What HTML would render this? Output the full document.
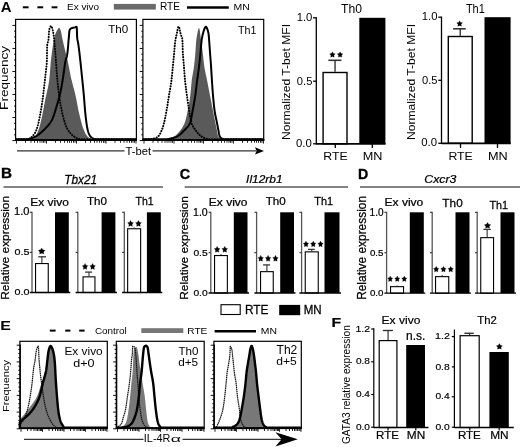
<!DOCTYPE html>
<html><head><meta charset="utf-8"><style>
html,body{margin:0;padding:0;background:#fff;}
body{width:520px;height:447px;overflow:hidden;}
svg{display:block;font-family:"Liberation Sans", sans-serif;will-change:transform;}
</style></head><body>
<svg width="520" height="447" viewBox="0 0 520 447">
<rect width="520" height="447" fill="#fff"/>
<text transform="translate(0.77,12.40) scale(1.035,1)" font-size="14.49" font-weight="bold" font-style="normal" fill="#000">A</text>
<line x1="22.8" y1="7.3" x2="28.6" y2="7.3" stroke="#000" stroke-width="2"/>
<line x1="37.4" y1="7.3" x2="43.199999999999996" y2="7.3" stroke="#000" stroke-width="2"/>
<line x1="51.6" y1="7.3" x2="57.4" y2="7.3" stroke="#000" stroke-width="2"/>
<text transform="translate(67.00,9.71) scale(1.062,1)" font-size="9.39" font-weight="normal" font-style="normal" fill="#000">Ex vivo</text>
<rect x="113.80" y="3.90" width="42.00" height="5.70" fill="#6a6a6a"/>
<text transform="translate(159.99,9.80) scale(1.011,1)" font-size="10.00" font-weight="normal" font-style="normal" fill="#000">RTE</text>
<line x1="187" y1="7.5" x2="228.8" y2="7.5" stroke="#000" stroke-width="2.6"/>
<text transform="translate(233.56,9.80) scale(1.078,1)" font-size="9.71" font-weight="normal" font-style="normal" fill="#000">MN</text>
<path d="M16.00,139.20 L29.00,139.20 L29.87,139.07 L30.72,138.89 L31.52,138.66 L32.28,138.38 L32.99,138.07 L33.62,137.73 L34.18,137.37 L34.70,136.93 L35.20,136.39 L35.67,135.78 L36.12,135.11 L36.54,134.38 L36.94,133.62 L37.32,132.84 L37.67,132.05 L38.00,131.27 L38.30,130.51 L38.58,129.78 L38.85,129.05 L39.09,128.31 L39.33,127.56 L39.55,126.80 L39.76,126.04 L39.96,125.26 L40.16,124.49 L40.34,123.71 L40.53,122.93 L40.71,122.15 L40.88,121.37 L41.06,120.59 L41.24,119.82 L41.42,119.05 L41.59,118.27 L41.76,117.50 L41.93,116.73 L42.10,115.95 L42.26,115.18 L42.42,114.40 L42.57,113.62 L42.73,112.85 L42.88,112.07 L43.03,111.29 L43.19,110.51 L43.33,109.73 L43.48,108.95 L43.63,108.18 L43.78,107.40 L43.93,106.62 L44.07,105.84 L44.22,105.06 L44.37,104.28 L44.52,103.50 L44.67,102.72 L44.82,101.94 L44.97,101.16 L45.12,100.39 L45.28,99.61 L45.44,98.83 L45.60,98.05 L45.77,97.28 L45.94,96.50 L46.11,95.73 L46.28,94.95 L46.46,94.18 L46.63,93.40 L46.81,92.63 L46.98,91.85 L47.15,91.08 L47.33,90.30 L47.49,89.52 L47.66,88.75 L47.83,87.97 L47.99,87.20 L48.14,86.42 L48.29,85.64 L48.44,84.86 L48.58,84.08 L48.71,83.30 L48.84,82.52 L48.96,81.74 L49.07,80.96 L49.18,80.18 L49.27,79.39 L49.36,78.61 L49.45,77.82 L49.53,77.04 L49.61,76.25 L49.69,75.46 L49.76,74.67 L49.83,73.88 L49.89,73.09 L49.96,72.30 L50.02,71.51 L50.08,70.72 L50.14,69.93 L50.21,69.14 L50.27,68.35 L50.33,67.55 L50.39,66.76 L50.45,65.97 L50.52,65.18 L50.58,64.39 L50.65,63.60 L50.72,62.81 L50.79,62.02 L50.87,61.23 L50.95,60.44 L51.04,59.65 L51.12,58.87 L51.21,58.08 L51.30,57.29 L51.40,56.50 L51.49,55.72 L51.59,54.93 L51.69,54.14 L51.79,53.36 L51.89,52.57 L52.00,51.78 L52.10,51.00 L52.21,50.21 L52.32,49.43 L52.44,48.64 L52.55,47.86 L52.67,47.07 L52.79,46.29 L52.92,45.51 L53.04,44.73 L53.17,43.94 L53.30,43.16 L53.43,42.37 L53.56,41.58 L53.70,40.80 L53.84,40.01 L53.99,39.23 L54.15,38.45 L54.32,37.67 L54.49,36.91 L54.69,36.14 L54.89,35.39 L55.11,34.64 L55.37,33.89 L55.66,33.14 L55.99,32.41 L56.34,31.69 L56.71,30.99 L57.11,30.31 L57.58,29.53 L58.11,28.73 L58.65,28.10 L59.14,27.80 L59.60,28.07 L60.04,28.84 L60.40,29.73 L60.66,30.47 L60.88,31.21 L61.07,31.97 L61.24,32.75 L61.39,33.53 L61.53,34.32 L61.67,35.11 L61.81,35.90 L61.95,36.69 L62.11,37.48 L62.28,38.25 L62.45,39.03 L62.63,39.80 L62.80,40.57 L62.98,41.35 L63.15,42.12 L63.33,42.89 L63.51,43.66 L63.69,44.44 L63.86,45.21 L64.05,45.98 L64.23,46.75 L64.41,47.52 L64.59,48.30 L64.78,49.07 L64.96,49.84 L65.15,50.61 L65.34,51.38 L65.53,52.15 L65.73,52.91 L65.93,53.68 L66.13,54.45 L66.33,55.22 L66.52,55.98 L66.72,56.75 L66.91,57.52 L67.10,58.29 L67.28,59.06 L67.46,59.83 L67.63,60.61 L67.80,61.38 L67.97,62.16 L68.13,62.93 L68.28,63.71 L68.44,64.49 L68.59,65.26 L68.74,66.04 L68.89,66.82 L69.04,67.60 L69.19,68.38 L69.33,69.16 L69.48,69.94 L69.63,70.72 L69.77,71.50 L69.92,72.28 L70.07,73.05 L70.23,73.83 L70.38,74.61 L70.54,75.39 L70.70,76.16 L70.87,76.94 L71.04,77.71 L71.21,78.48 L71.39,79.26 L71.57,80.03 L71.76,80.80 L71.95,81.56 L72.15,82.33 L72.34,83.10 L72.54,83.87 L72.75,84.64 L72.95,85.40 L73.15,86.17 L73.36,86.93 L73.56,87.70 L73.77,88.47 L73.97,89.23 L74.17,90.00 L74.37,90.77 L74.57,91.54 L74.77,92.30 L74.96,93.07 L75.14,93.84 L75.33,94.61 L75.51,95.39 L75.68,96.16 L75.85,96.93 L76.01,97.71 L76.17,98.48 L76.33,99.26 L76.48,100.04 L76.63,100.82 L76.78,101.60 L76.92,102.38 L77.07,103.16 L77.22,103.94 L77.36,104.72 L77.51,105.50 L77.65,106.28 L77.80,107.06 L77.95,107.84 L78.10,108.62 L78.26,109.39 L78.42,110.17 L78.58,110.94 L78.75,111.72 L78.92,112.49 L79.10,113.26 L79.28,114.03 L79.46,114.80 L79.65,115.58 L79.83,116.35 L80.02,117.13 L80.21,117.91 L80.40,118.69 L80.59,119.47 L80.79,120.25 L80.99,121.03 L81.19,121.80 L81.40,122.58 L81.62,123.35 L81.84,124.12 L82.06,124.88 L82.30,125.65 L82.54,126.40 L82.78,127.15 L83.04,127.90 L83.31,128.64 L83.58,129.37 L83.86,130.09 L84.16,130.81 L84.46,131.51 L84.79,132.23 L85.14,132.95 L85.53,133.68 L85.94,134.40 L86.38,135.09 L86.85,135.75 L87.35,136.35 L87.87,136.88 L88.43,137.36 L89.05,137.80 L89.72,138.21 L90.45,138.58 L91.21,138.91 L92.00,139.20 L136.00,139.20 L136.0,140.7 L16.0,140.7 Z" fill="#5a5a5a" stroke="none" stroke-width="1"/>
<path d="M16.00,139.20 L28.00,139.20 L28.76,138.86 L29.50,138.49 L30.21,138.08 L30.88,137.65 L31.49,137.18 L32.05,136.68 L32.59,136.13 L33.11,135.53 L33.62,134.89 L34.10,134.23 L34.57,133.53 L35.00,132.82 L35.41,132.10 L35.78,131.37 L36.13,130.65 L36.43,129.93 L36.71,129.20 L36.97,128.47 L37.21,127.71 L37.45,126.95 L37.66,126.18 L37.87,125.39 L38.07,124.61 L38.26,123.82 L38.44,123.02 L38.62,122.23 L38.79,121.44 L38.96,120.65 L39.13,119.87 L39.29,119.08 L39.46,118.30 L39.61,117.52 L39.77,116.73 L39.92,115.95 L40.07,115.16 L40.22,114.37 L40.36,113.59 L40.50,112.80 L40.64,112.01 L40.78,111.22 L40.91,110.43 L41.05,109.63 L41.18,108.84 L41.30,108.05 L41.43,107.26 L41.55,106.47 L41.67,105.67 L41.79,104.88 L41.91,104.09 L42.03,103.29 L42.14,102.50 L42.26,101.71 L42.37,100.91 L42.48,100.12 L42.59,99.33 L42.70,98.53 L42.81,97.74 L42.91,96.95 L43.02,96.15 L43.12,95.36 L43.22,94.56 L43.32,93.77 L43.42,92.97 L43.51,92.18 L43.61,91.38 L43.70,90.59 L43.80,89.79 L43.89,89.00 L43.98,88.20 L44.07,87.40 L44.16,86.61 L44.25,85.81 L44.34,85.01 L44.42,84.22 L44.51,83.42 L44.60,82.62 L44.69,81.83 L44.77,81.03 L44.86,80.23 L44.94,79.44 L45.03,78.64 L45.12,77.85 L45.21,77.05 L45.30,76.25 L45.39,75.46 L45.49,74.66 L45.58,73.86 L45.68,73.07 L45.78,72.27 L45.88,71.47 L45.97,70.68 L46.07,69.88 L46.16,69.08 L46.25,68.29 L46.34,67.49 L46.42,66.69 L46.50,65.90 L46.58,65.10 L46.64,64.30 L46.71,63.50 L46.76,62.70 L46.81,61.91 L46.86,61.11 L46.89,60.31 L46.92,59.51 L46.94,58.71 L46.96,57.91 L46.97,57.10 L46.98,56.30 L47.00,55.49 L47.01,54.69 L47.02,53.88 L47.02,53.08 L47.03,52.27 L47.04,51.47 L47.05,50.67 L47.07,49.86 L47.08,49.06 L47.10,48.26 L47.12,47.47 L47.14,46.67 L47.16,45.88 L47.20,45.09 L47.27,44.31 L47.44,43.53 L47.66,42.75 L47.91,41.98 L48.14,41.20 L48.33,40.42 L48.45,39.63 L48.54,38.83 L48.61,38.03 L48.67,37.22 L48.72,36.41 L48.77,35.59 L48.81,34.78 L48.86,33.97 L48.91,33.16 L48.97,32.36 L49.04,31.57 L49.13,30.79 L49.23,30.03 L49.37,29.25 L49.66,28.34 L50.05,27.40 L50.49,26.59 L50.90,26.09 L51.23,26.04 L51.54,26.40 L51.84,27.07 L52.14,27.95 L52.41,28.93 L52.65,29.93 L52.86,30.82 L53.03,31.60 L53.19,32.39 L53.34,33.17 L53.47,33.97 L53.59,34.76 L53.70,35.56 L53.81,36.35 L53.91,37.15 L54.00,37.94 L54.09,38.74 L54.17,39.54 L54.25,40.33 L54.32,41.13 L54.40,41.93 L54.47,42.73 L54.54,43.53 L54.61,44.32 L54.68,45.12 L54.76,45.92 L54.83,46.72 L54.90,47.52 L54.97,48.31 L55.03,49.11 L55.10,49.91 L55.17,50.71 L55.23,51.51 L55.30,52.31 L55.36,53.10 L55.43,53.90 L55.49,54.70 L55.55,55.50 L55.61,56.30 L55.68,57.10 L55.74,57.90 L55.80,58.69 L55.86,59.49 L55.92,60.29 L55.98,61.09 L56.04,61.89 L56.10,62.69 L56.15,63.49 L56.21,64.29 L56.26,65.09 L56.32,65.89 L56.37,66.69 L56.42,67.49 L56.48,68.29 L56.53,69.09 L56.58,69.89 L56.64,70.68 L56.69,71.48 L56.75,72.28 L56.81,73.08 L56.86,73.88 L56.93,74.68 L56.99,75.48 L57.05,76.28 L57.12,77.07 L57.19,77.87 L57.26,78.67 L57.33,79.47 L57.41,80.26 L57.48,81.06 L57.56,81.86 L57.64,82.66 L57.72,83.45 L57.80,84.25 L57.89,85.05 L57.97,85.85 L58.06,86.64 L58.15,87.44 L58.24,88.24 L58.33,89.04 L58.43,89.83 L58.52,90.63 L58.62,91.42 L58.72,92.22 L58.82,93.01 L58.92,93.81 L59.03,94.60 L59.14,95.40 L59.25,96.19 L59.36,96.98 L59.47,97.77 L59.59,98.57 L59.70,99.36 L59.82,100.15 L59.94,100.94 L60.07,101.73 L60.20,102.52 L60.33,103.31 L60.46,104.10 L60.60,104.89 L60.74,105.69 L60.88,106.48 L61.03,107.27 L61.18,108.06 L61.34,108.85 L61.49,109.64 L61.66,110.43 L61.82,111.22 L61.99,112.00 L62.17,112.79 L62.34,113.57 L62.53,114.35 L62.71,115.13 L62.90,115.91 L63.10,116.68 L63.30,117.45 L63.51,118.22 L63.71,118.99 L63.93,119.75 L64.15,120.52 L64.38,121.29 L64.62,122.06 L64.87,122.84 L65.14,123.61 L65.41,124.39 L65.70,125.16 L66.00,125.92 L66.31,126.66 L66.64,127.40 L66.98,128.12 L67.33,128.82 L67.70,129.49 L68.09,130.15 L68.51,130.80 L68.97,131.45 L69.46,132.10 L69.98,132.73 L70.52,133.36 L71.09,133.97 L71.69,134.56 L72.29,135.12 L72.92,135.65 L73.55,136.15 L74.19,136.60 L74.83,137.02 L75.49,137.40 L76.19,137.76 L76.91,138.10 L77.65,138.42 L78.42,138.71 L79.20,138.97 L80.00,139.20 L136.00,139.20" fill="none" stroke="#000" stroke-width="2.0" stroke-linejoin="round" fill="none" stroke-dasharray="0.2 2.5" stroke-linecap="round"/>
<path d="M16.00,139.20 L27.00,139.20 L27.84,139.05 L28.68,138.88 L29.50,138.68 L30.32,138.46 L31.12,138.22 L31.91,137.96 L32.68,137.69 L33.44,137.40 L34.18,137.09 L34.91,136.77 L35.63,136.41 L36.35,136.01 L37.05,135.58 L37.75,135.12 L38.44,134.63 L39.12,134.12 L39.78,133.59 L40.44,133.05 L41.09,132.49 L41.73,131.93 L42.35,131.36 L42.96,130.79 L43.56,130.23 L44.15,129.67 L44.74,129.09 L45.33,128.50 L45.92,127.90 L46.50,127.29 L47.08,126.67 L47.65,126.03 L48.21,125.39 L48.75,124.73 L49.28,124.07 L49.78,123.40 L50.27,122.72 L50.73,122.03 L51.16,121.34 L51.56,120.64 L51.93,119.93 L52.28,119.22 L52.62,118.49 L52.93,117.74 L53.24,116.99 L53.53,116.22 L53.82,115.44 L54.09,114.66 L54.35,113.86 L54.61,113.06 L54.86,112.26 L55.11,111.45 L55.35,110.64 L55.59,109.82 L55.82,109.01 L56.06,108.20 L56.29,107.39 L56.53,106.58 L56.76,105.78 L57.00,104.98 L57.25,104.19 L57.49,103.40 L57.73,102.60 L57.97,101.80 L58.21,101.01 L58.44,100.21 L58.67,99.41 L58.89,98.61 L59.10,97.81 L59.31,97.00 L59.51,96.20 L59.69,95.39 L59.88,94.58 L60.06,93.77 L60.23,92.96 L60.41,92.15 L60.58,91.34 L60.74,90.52 L60.90,89.71 L61.06,88.89 L61.22,88.08 L61.38,87.26 L61.53,86.44 L61.68,85.63 L61.83,84.81 L61.97,83.99 L62.12,83.17 L62.26,82.35 L62.40,81.53 L62.54,80.71 L62.68,79.89 L62.82,79.07 L62.96,78.26 L63.09,77.44 L63.22,76.62 L63.35,75.79 L63.46,74.97 L63.58,74.15 L63.69,73.32 L63.80,72.49 L63.90,71.67 L64.01,70.84 L64.11,70.01 L64.22,69.18 L64.32,68.36 L64.43,67.53 L64.54,66.71 L64.66,65.89 L64.78,65.07 L64.91,64.25 L65.04,63.43 L65.18,62.61 L65.33,61.80 L65.49,60.99 L65.66,60.18 L65.86,59.38 L66.12,58.59 L66.41,57.80 L66.69,57.01 L66.91,56.22 L67.06,55.42 L67.19,54.61 L67.31,53.79 L67.42,52.98 L67.52,52.16 L67.62,51.34 L67.71,50.51 L67.79,49.69 L67.87,48.86 L67.94,48.03 L68.01,47.20 L68.08,46.37 L68.15,45.53 L68.21,44.70 L68.28,43.87 L68.34,43.03 L68.41,42.20 L68.48,41.37 L68.55,40.54 L68.62,39.71 L68.70,38.88 L68.78,38.05 L68.87,37.21 L68.94,36.34 L69.00,35.45 L69.06,34.55 L69.13,33.67 L69.20,32.80 L69.29,31.96 L69.40,31.18 L69.53,30.45 L69.70,29.80 L70.10,29.18 L70.80,28.61 L71.61,28.16 L72.37,27.90 L73.18,27.74 L74.02,27.60 L74.87,27.39 L75.84,27.04 L76.47,26.80 L76.60,26.89 L76.69,27.20 L76.76,27.71 L76.82,28.39 L76.86,29.20 L76.90,30.13 L76.93,31.15 L76.95,32.22 L76.98,33.32 L77.01,34.42 L77.05,35.49 L77.10,36.51 L77.16,37.45 L77.24,38.29 L77.35,39.11 L77.49,39.93 L77.65,40.74 L77.81,41.56 L77.98,42.38 L78.13,43.19 L78.27,44.01 L78.39,44.83 L78.51,45.65 L78.63,46.48 L78.74,47.30 L78.85,48.12 L78.95,48.95 L79.06,49.77 L79.16,50.59 L79.26,51.42 L79.36,52.24 L79.46,53.07 L79.56,53.89 L79.65,54.72 L79.75,55.54 L79.84,56.37 L79.94,57.19 L80.03,58.02 L80.12,58.84 L80.21,59.67 L80.30,60.50 L80.39,61.32 L80.48,62.15 L80.57,62.97 L80.66,63.80 L80.74,64.63 L80.83,65.45 L80.91,66.28 L81.00,67.10 L81.08,67.93 L81.17,68.76 L81.25,69.58 L81.33,70.41 L81.42,71.24 L81.50,72.06 L81.58,72.89 L81.67,73.71 L81.75,74.54 L81.84,75.37 L81.92,76.19 L82.01,77.02 L82.09,77.84 L82.18,78.67 L82.26,79.50 L82.35,80.32 L82.43,81.15 L82.52,81.98 L82.60,82.80 L82.69,83.63 L82.77,84.45 L82.86,85.28 L82.94,86.11 L83.02,86.93 L83.11,87.76 L83.19,88.59 L83.27,89.41 L83.35,90.24 L83.43,91.07 L83.51,91.89 L83.59,92.72 L83.67,93.55 L83.74,94.37 L83.82,95.20 L83.89,96.03 L83.96,96.85 L84.03,97.68 L84.10,98.51 L84.16,99.34 L84.23,100.17 L84.29,101.00 L84.36,101.82 L84.42,102.65 L84.48,103.48 L84.54,104.31 L84.61,105.14 L84.67,105.97 L84.74,106.80 L84.80,107.62 L84.87,108.45 L84.94,109.28 L85.02,110.11 L85.09,110.93 L85.17,111.76 L85.25,112.58 L85.34,113.41 L85.43,114.23 L85.52,115.06 L85.61,115.89 L85.70,116.72 L85.79,117.56 L85.88,118.39 L85.98,119.23 L86.08,120.07 L86.18,120.90 L86.29,121.74 L86.40,122.57 L86.52,123.40 L86.64,124.23 L86.77,125.05 L86.91,125.87 L87.05,126.69 L87.21,127.50 L87.37,128.30 L87.54,129.10 L87.72,129.89 L87.91,130.67 L88.12,131.45 L88.38,132.26 L88.68,133.08 L89.02,133.89 L89.41,134.69 L89.82,135.43 L90.27,136.12 L90.75,136.73 L91.26,137.25 L91.87,137.73 L92.56,138.17 L93.32,138.56 L94.14,138.91 L95.00,139.20 L136.00,139.20" fill="none" stroke="#000" stroke-width="2.0" stroke-linejoin="round" fill="none"/>
<line x1="12.399999999999999" y1="140.6" x2="15.6" y2="140.6" stroke="#111" stroke-width="1.0"/>
<line x1="14.0" y1="134.84" x2="15.6" y2="134.84" stroke="#111" stroke-width="1.0"/>
<line x1="14.0" y1="129.07999999999998" x2="15.6" y2="129.07999999999998" stroke="#111" stroke-width="1.0"/>
<line x1="14.0" y1="123.32" x2="15.6" y2="123.32" stroke="#111" stroke-width="1.0"/>
<line x1="12.399999999999999" y1="117.56" x2="15.6" y2="117.56" stroke="#111" stroke-width="1.0"/>
<line x1="14.0" y1="111.8" x2="15.6" y2="111.8" stroke="#111" stroke-width="1.0"/>
<line x1="14.0" y1="106.03999999999999" x2="15.6" y2="106.03999999999999" stroke="#111" stroke-width="1.0"/>
<line x1="14.0" y1="100.28" x2="15.6" y2="100.28" stroke="#111" stroke-width="1.0"/>
<line x1="12.399999999999999" y1="94.52" x2="15.6" y2="94.52" stroke="#111" stroke-width="1.0"/>
<line x1="14.0" y1="88.75999999999999" x2="15.6" y2="88.75999999999999" stroke="#111" stroke-width="1.0"/>
<line x1="14.0" y1="83.0" x2="15.6" y2="83.0" stroke="#111" stroke-width="1.0"/>
<line x1="14.0" y1="77.24" x2="15.6" y2="77.24" stroke="#111" stroke-width="1.0"/>
<line x1="12.399999999999999" y1="71.47999999999999" x2="15.6" y2="71.47999999999999" stroke="#111" stroke-width="1.0"/>
<line x1="14.0" y1="65.72" x2="15.6" y2="65.72" stroke="#111" stroke-width="1.0"/>
<line x1="14.0" y1="59.959999999999994" x2="15.6" y2="59.959999999999994" stroke="#111" stroke-width="1.0"/>
<line x1="14.0" y1="54.2" x2="15.6" y2="54.2" stroke="#111" stroke-width="1.0"/>
<line x1="12.399999999999999" y1="48.44" x2="15.6" y2="48.44" stroke="#111" stroke-width="1.0"/>
<line x1="14.0" y1="42.67999999999999" x2="15.6" y2="42.67999999999999" stroke="#111" stroke-width="1.0"/>
<line x1="14.0" y1="36.92" x2="15.6" y2="36.92" stroke="#111" stroke-width="1.0"/>
<line x1="14.0" y1="31.159999999999997" x2="15.6" y2="31.159999999999997" stroke="#111" stroke-width="1.0"/>
<line x1="12.399999999999999" y1="25.400000000000006" x2="15.6" y2="25.400000000000006" stroke="#111" stroke-width="1.0"/>
<line x1="16.5" y1="140.6" x2="16.5" y2="143.6" stroke="#111" stroke-width="0.9"/>
<line x1="25.5" y1="140.6" x2="25.5" y2="142.79999999999998" stroke="#111" stroke-width="0.9"/>
<line x1="31.0" y1="140.6" x2="31.0" y2="142.79999999999998" stroke="#111" stroke-width="0.9"/>
<line x1="34.5" y1="140.6" x2="34.5" y2="142.79999999999998" stroke="#111" stroke-width="0.9"/>
<line x1="37.5" y1="140.6" x2="37.5" y2="142.79999999999998" stroke="#111" stroke-width="0.9"/>
<line x1="40.0" y1="140.6" x2="40.0" y2="142.79999999999998" stroke="#111" stroke-width="0.9"/>
<line x1="42.0" y1="140.6" x2="42.0" y2="142.79999999999998" stroke="#111" stroke-width="0.9"/>
<line x1="43.5" y1="140.6" x2="43.5" y2="142.79999999999998" stroke="#111" stroke-width="0.9"/>
<line x1="45.0" y1="140.6" x2="45.0" y2="142.79999999999998" stroke="#111" stroke-width="0.9"/>
<line x1="46.5" y1="140.6" x2="46.5" y2="143.6" stroke="#111" stroke-width="0.9"/>
<line x1="55.5" y1="140.6" x2="55.5" y2="142.79999999999998" stroke="#111" stroke-width="0.9"/>
<line x1="60.5" y1="140.6" x2="60.5" y2="142.79999999999998" stroke="#111" stroke-width="0.9"/>
<line x1="64.5" y1="140.6" x2="64.5" y2="142.79999999999998" stroke="#111" stroke-width="0.9"/>
<line x1="67.5" y1="140.6" x2="67.5" y2="142.79999999999998" stroke="#111" stroke-width="0.9"/>
<line x1="69.5" y1="140.6" x2="69.5" y2="142.79999999999998" stroke="#111" stroke-width="0.9"/>
<line x1="71.5" y1="140.6" x2="71.5" y2="142.79999999999998" stroke="#111" stroke-width="0.9"/>
<line x1="73.5" y1="140.6" x2="73.5" y2="142.79999999999998" stroke="#111" stroke-width="0.9"/>
<line x1="75.0" y1="140.6" x2="75.0" y2="142.79999999999998" stroke="#111" stroke-width="0.9"/>
<line x1="76.5" y1="140.6" x2="76.5" y2="143.6" stroke="#111" stroke-width="0.9"/>
<line x1="85.5" y1="140.6" x2="85.5" y2="142.79999999999998" stroke="#111" stroke-width="0.9"/>
<line x1="90.5" y1="140.6" x2="90.5" y2="142.79999999999998" stroke="#111" stroke-width="0.9"/>
<line x1="94.5" y1="140.6" x2="94.5" y2="142.79999999999998" stroke="#111" stroke-width="0.9"/>
<line x1="97.0" y1="140.6" x2="97.0" y2="142.79999999999998" stroke="#111" stroke-width="0.9"/>
<line x1="99.5" y1="140.6" x2="99.5" y2="142.79999999999998" stroke="#111" stroke-width="0.9"/>
<line x1="101.5" y1="140.6" x2="101.5" y2="142.79999999999998" stroke="#111" stroke-width="0.9"/>
<line x1="103.5" y1="140.6" x2="103.5" y2="142.79999999999998" stroke="#111" stroke-width="0.9"/>
<line x1="105.0" y1="140.6" x2="105.0" y2="142.79999999999998" stroke="#111" stroke-width="0.9"/>
<line x1="106.0" y1="140.6" x2="106.0" y2="143.6" stroke="#111" stroke-width="0.9"/>
<line x1="115.0" y1="140.6" x2="115.0" y2="142.79999999999998" stroke="#111" stroke-width="0.9"/>
<line x1="120.5" y1="140.6" x2="120.5" y2="142.79999999999998" stroke="#111" stroke-width="0.9"/>
<line x1="124.0" y1="140.6" x2="124.0" y2="142.79999999999998" stroke="#111" stroke-width="0.9"/>
<line x1="127.0" y1="140.6" x2="127.0" y2="142.79999999999998" stroke="#111" stroke-width="0.9"/>
<line x1="129.5" y1="140.6" x2="129.5" y2="142.79999999999998" stroke="#111" stroke-width="0.9"/>
<line x1="131.5" y1="140.6" x2="131.5" y2="142.79999999999998" stroke="#111" stroke-width="0.9"/>
<line x1="133.0" y1="140.6" x2="133.0" y2="142.79999999999998" stroke="#111" stroke-width="0.9"/>
<line x1="134.5" y1="140.6" x2="134.5" y2="142.79999999999998" stroke="#111" stroke-width="0.9"/>
<line x1="136.0" y1="140.6" x2="136.0" y2="143.6" stroke="#111" stroke-width="0.9"/>
<rect x="15.60" y="19.40" width="120.80" height="121.00" fill="none" stroke="#000" stroke-width="1.2"/>
<line x1="15.0" y1="139.8" x2="137.0" y2="139.8" stroke="#000" stroke-width="1.8"/>
<path d="M143.30,139.20 L162.00,139.20 L162.88,139.18 L163.75,139.14 L164.60,139.06 L165.44,138.96 L166.27,138.84 L167.08,138.69 L167.88,138.53 L168.66,138.35 L169.42,138.15 L170.17,137.94 L170.91,137.71 L171.63,137.48 L172.33,137.24 L173.02,136.99 L173.69,136.70 L174.36,136.34 L175.01,135.90 L175.66,135.41 L176.29,134.88 L176.90,134.30 L177.50,133.69 L178.08,133.07 L178.64,132.44 L179.18,131.80 L179.69,131.18 L180.18,130.57 L180.66,129.95 L181.14,129.31 L181.60,128.64 L182.05,127.96 L182.49,127.27 L182.91,126.56 L183.30,125.84 L183.68,125.12 L184.02,124.39 L184.34,123.66 L184.63,122.93 L184.89,122.20 L185.14,121.45 L185.38,120.69 L185.60,119.93 L185.82,119.16 L186.03,118.38 L186.22,117.60 L186.41,116.81 L186.60,116.02 L186.78,115.22 L186.95,114.43 L187.12,113.64 L187.28,112.84 L187.44,112.05 L187.61,111.26 L187.77,110.48 L187.92,109.69 L188.08,108.91 L188.24,108.12 L188.39,107.33 L188.54,106.54 L188.68,105.75 L188.83,104.96 L188.97,104.17 L189.11,103.38 L189.24,102.58 L189.38,101.79 L189.50,101.00 L189.63,100.20 L189.75,99.41 L189.87,98.62 L189.98,97.82 L190.09,97.03 L190.19,96.23 L190.30,95.44 L190.39,94.64 L190.48,93.84 L190.57,93.05 L190.65,92.25 L190.72,91.45 L190.80,90.65 L190.87,89.85 L190.94,89.05 L191.01,88.25 L191.07,87.45 L191.14,86.65 L191.21,85.85 L191.28,85.05 L191.35,84.25 L191.43,83.45 L191.51,82.65 L191.59,81.85 L191.68,81.05 L191.77,80.26 L191.87,79.46 L191.98,78.67 L192.10,77.87 L192.22,77.08 L192.36,76.29 L192.49,75.50 L192.63,74.71 L192.78,73.92 L192.92,73.12 L193.06,72.33 L193.21,71.54 L193.34,70.75 L193.48,69.96 L193.60,69.17 L193.73,68.37 L193.84,67.58 L193.94,66.79 L194.04,65.99 L194.13,65.19 L194.23,64.40 L194.32,63.60 L194.41,62.80 L194.50,62.00 L194.58,61.20 L194.66,60.41 L194.74,59.61 L194.82,58.81 L194.90,58.01 L194.98,57.21 L195.05,56.41 L195.12,55.61 L195.19,54.81 L195.26,54.01 L195.33,53.21 L195.40,52.41 L195.46,51.61 L195.51,50.81 L195.56,50.00 L195.61,49.20 L195.66,48.40 L195.71,47.59 L195.76,46.79 L195.81,45.99 L195.86,45.18 L195.91,44.38 L195.97,43.58 L196.03,42.78 L196.10,41.99 L196.18,41.19 L196.26,40.40 L196.35,39.59 L196.46,38.71 L196.60,37.76 L196.75,36.76 L196.92,35.73 L197.10,34.68 L197.30,33.65 L197.50,32.64 L197.70,31.69 L197.91,30.80 L198.12,30.00 L198.32,29.30 L198.51,28.74 L198.70,28.32 L198.87,28.07 L199.03,28.00 L199.18,28.14 L199.32,28.46 L199.46,28.94 L199.60,29.57 L199.74,30.32 L199.88,31.17 L200.01,32.10 L200.14,33.10 L200.27,34.13 L200.40,35.18 L200.52,36.23 L200.64,37.26 L200.76,38.25 L200.88,39.17 L201.00,40.02 L201.12,40.81 L201.23,41.60 L201.35,42.40 L201.46,43.19 L201.56,43.99 L201.67,44.78 L201.78,45.58 L201.88,46.38 L201.99,47.17 L202.09,47.97 L202.19,48.76 L202.29,49.56 L202.39,50.36 L202.49,51.15 L202.59,51.95 L202.69,52.75 L202.79,53.54 L202.89,54.34 L202.99,55.14 L203.08,55.93 L203.17,56.73 L203.25,57.53 L203.34,58.33 L203.43,59.13 L203.51,59.93 L203.60,60.73 L203.69,61.53 L203.78,62.32 L203.87,63.12 L203.97,63.92 L204.07,64.71 L204.17,65.51 L204.28,66.30 L204.40,67.09 L204.52,67.89 L204.65,68.68 L204.80,69.46 L204.94,70.25 L205.10,71.04 L205.26,71.83 L205.42,72.61 L205.59,73.40 L205.76,74.18 L205.93,74.97 L206.10,75.75 L206.27,76.54 L206.44,77.32 L206.61,78.11 L206.78,78.90 L206.94,79.68 L207.09,80.47 L207.25,81.26 L207.40,82.05 L207.56,82.83 L207.71,83.62 L207.87,84.41 L208.02,85.20 L208.17,85.98 L208.33,86.77 L208.48,87.56 L208.63,88.35 L208.79,89.14 L208.94,89.92 L209.09,90.71 L209.24,91.50 L209.40,92.29 L209.55,93.08 L209.70,93.86 L209.85,94.65 L210.01,95.44 L210.16,96.23 L210.31,97.02 L210.47,97.80 L210.62,98.59 L210.77,99.38 L210.93,100.17 L211.08,100.96 L211.23,101.74 L211.39,102.53 L211.54,103.32 L211.69,104.11 L211.85,104.90 L212.00,105.68 L212.15,106.47 L212.31,107.26 L212.46,108.05 L212.62,108.83 L212.77,109.62 L212.92,110.41 L213.08,111.20 L213.23,111.99 L213.39,112.77 L213.54,113.56 L213.69,114.35 L213.85,115.14 L214.00,115.93 L214.16,116.71 L214.31,117.50 L214.46,118.29 L214.62,119.08 L214.77,119.86 L214.93,120.65 L215.09,121.44 L215.24,122.23 L215.40,123.01 L215.56,123.80 L215.72,124.59 L215.87,125.37 L216.03,126.16 L216.19,126.95 L216.35,127.74 L216.51,128.52 L216.68,129.31 L216.84,130.09 L217.02,130.88 L217.18,131.68 L217.33,132.50 L217.48,133.34 L217.64,134.16 L217.82,134.97 L218.02,135.73 L218.26,136.45 L218.55,137.09 L218.98,137.68 L219.57,138.23 L220.26,138.74 L221.00,139.20 L263.30,139.20 L263.3,140.7 L143.3,140.7 Z" fill="#5a5a5a" stroke="none" stroke-width="1"/>
<path d="M143.30,139.20 L150.00,139.20 L150.82,139.13 L151.63,139.01 L152.43,138.86 L153.22,138.69 L154.00,138.50 L154.79,138.27 L155.59,137.99 L156.37,137.66 L157.08,137.28 L157.67,136.87 L158.22,136.37 L158.74,135.78 L159.22,135.13 L159.68,134.42 L160.11,133.67 L160.52,132.91 L160.89,132.14 L161.24,131.37 L161.57,130.64 L161.88,129.90 L162.16,129.15 L162.44,128.39 L162.70,127.62 L162.94,126.84 L163.18,126.05 L163.40,125.26 L163.62,124.47 L163.83,123.68 L164.03,122.90 L164.22,122.11 L164.41,121.32 L164.59,120.53 L164.77,119.74 L164.94,118.95 L165.11,118.15 L165.27,117.36 L165.43,116.56 L165.58,115.76 L165.73,114.96 L165.88,114.16 L166.03,113.36 L166.18,112.56 L166.32,111.76 L166.47,110.96 L166.61,110.17 L166.76,109.37 L166.89,108.57 L167.03,107.77 L167.16,106.97 L167.30,106.16 L167.43,105.36 L167.56,104.56 L167.68,103.76 L167.81,102.96 L167.94,102.16 L168.06,101.35 L168.19,100.55 L168.31,99.75 L168.44,98.95 L168.56,98.14 L168.69,97.34 L168.82,96.54 L168.95,95.74 L169.08,94.94 L169.21,94.13 L169.34,93.33 L169.48,92.53 L169.62,91.73 L169.76,90.93 L169.90,90.13 L170.04,89.33 L170.18,88.53 L170.32,87.73 L170.46,86.93 L170.59,86.13 L170.72,85.33 L170.85,84.53 L170.98,83.72 L171.10,82.92 L171.22,82.12 L171.33,81.32 L171.44,80.51 L171.54,79.71 L171.63,78.90 L171.72,78.10 L171.81,77.29 L171.90,76.48 L171.98,75.67 L172.06,74.87 L172.14,74.06 L172.22,73.25 L172.30,72.44 L172.37,71.63 L172.45,70.82 L172.52,70.01 L172.60,69.21 L172.67,68.40 L172.75,67.59 L172.83,66.78 L172.91,65.97 L172.99,65.16 L173.07,64.36 L173.15,63.55 L173.23,62.74 L173.31,61.93 L173.39,61.12 L173.46,60.32 L173.54,59.51 L173.62,58.70 L173.70,57.89 L173.77,57.08 L173.85,56.27 L173.93,55.47 L174.00,54.66 L174.08,53.85 L174.15,53.04 L174.22,52.23 L174.28,51.42 L174.35,50.61 L174.41,49.80 L174.47,48.99 L174.53,48.18 L174.60,47.37 L174.66,46.56 L174.73,45.75 L174.81,44.94 L174.88,44.13 L174.97,43.33 L175.06,42.52 L175.16,41.72 L175.28,40.92 L175.41,40.12 L175.55,39.32 L175.70,38.52 L175.87,37.72 L176.04,36.93 L176.21,36.13 L176.39,35.34 L176.56,34.55 L176.74,33.75 L176.92,32.93 L177.11,31.97 L177.30,30.94 L177.51,29.90 L177.71,28.90 L177.92,28.00 L178.13,27.26 L178.34,26.75 L178.55,26.51 L178.76,26.59 L178.97,26.93 L179.17,27.50 L179.38,28.24 L179.58,29.13 L179.79,30.10 L180.01,31.13 L180.23,32.17 L180.46,33.18 L180.69,34.11 L180.94,34.93 L181.26,35.69 L181.62,36.44 L181.95,37.19 L182.17,37.96 L182.25,38.74 L182.32,39.52 L182.38,40.31 L182.43,41.11 L182.47,41.92 L182.51,42.72 L182.55,43.53 L182.58,44.35 L182.60,45.16 L182.63,45.98 L182.65,46.80 L182.67,47.62 L182.69,48.45 L182.72,49.27 L182.74,50.09 L182.77,50.91 L182.81,51.73 L182.84,52.54 L182.89,53.36 L182.93,54.17 L182.99,54.98 L183.04,55.79 L183.10,56.60 L183.17,57.41 L183.23,58.21 L183.30,59.02 L183.37,59.83 L183.44,60.64 L183.51,61.45 L183.58,62.26 L183.66,63.07 L183.73,63.88 L183.80,64.69 L183.87,65.50 L183.94,66.30 L184.00,67.11 L184.06,67.92 L184.13,68.73 L184.19,69.54 L184.25,70.35 L184.30,71.16 L184.36,71.97 L184.42,72.78 L184.48,73.59 L184.54,74.40 L184.60,75.21 L184.66,76.02 L184.72,76.83 L184.79,77.64 L184.86,78.45 L184.93,79.26 L185.01,80.07 L185.08,80.87 L185.17,81.68 L185.25,82.49 L185.34,83.29 L185.43,84.10 L185.53,84.91 L185.62,85.71 L185.72,86.52 L185.82,87.33 L185.93,88.13 L186.03,88.94 L186.14,89.74 L186.24,90.55 L186.35,91.35 L186.46,92.16 L186.57,92.96 L186.68,93.77 L186.79,94.57 L186.90,95.38 L187.01,96.18 L187.12,96.99 L187.23,97.79 L187.34,98.59 L187.45,99.40 L187.57,100.20 L187.68,101.01 L187.80,101.81 L187.92,102.61 L188.03,103.42 L188.16,104.22 L188.28,105.02 L188.40,105.83 L188.53,106.63 L188.65,107.43 L188.78,108.23 L188.91,109.03 L189.04,109.83 L189.17,110.63 L189.30,111.44 L189.43,112.24 L189.56,113.06 L189.68,113.87 L189.81,114.68 L189.93,115.50 L190.06,116.31 L190.20,117.13 L190.34,117.93 L190.48,118.74 L190.64,119.53 L190.81,120.32 L190.99,121.10 L191.18,121.87 L191.39,122.63 L191.62,123.37 L191.89,124.12 L192.21,124.86 L192.57,125.59 L192.96,126.31 L193.38,127.03 L193.82,127.74 L194.28,128.43 L194.76,129.11 L195.24,129.78 L195.72,130.43 L196.20,131.06 L196.70,131.70 L197.21,132.34 L197.75,132.98 L198.31,133.61 L198.88,134.22 L199.47,134.81 L200.08,135.37 L200.70,135.90 L201.34,136.38 L201.99,136.81 L202.65,137.20 L203.34,137.56 L204.06,137.90 L204.81,138.22 L205.58,138.51 L206.37,138.77 L207.18,139.00 L208.00,139.20 L263.30,139.20" fill="none" stroke="#000" stroke-width="2.0" stroke-linejoin="round" fill="none" stroke-dasharray="0.2 2.5" stroke-linecap="round"/>
<path d="M143.30,139.20 L165.00,139.20 L165.88,139.18 L166.76,139.13 L167.62,139.06 L168.46,138.95 L169.30,138.82 L170.12,138.67 L170.93,138.49 L171.73,138.30 L172.51,138.10 L173.28,137.88 L174.04,137.65 L174.78,137.41 L175.51,137.17 L176.23,136.92 L176.93,136.61 L177.62,136.24 L178.30,135.81 L178.97,135.33 L179.63,134.80 L180.28,134.25 L180.91,133.67 L181.53,133.08 L182.14,132.47 L182.74,131.87 L183.32,131.28 L183.90,130.70 L184.48,130.13 L185.07,129.54 L185.67,128.93 L186.27,128.32 L186.85,127.69 L187.42,127.05 L187.96,126.40 L188.47,125.74 L188.93,125.07 L189.35,124.39 L189.71,123.69 L190.01,122.99 L190.26,122.26 L190.49,121.52 L190.70,120.76 L190.90,119.98 L191.08,119.18 L191.25,118.38 L191.41,117.56 L191.56,116.74 L191.71,115.91 L191.85,115.08 L191.99,114.24 L192.13,113.41 L192.27,112.59 L192.42,111.77 L192.57,110.95 L192.73,110.15 L192.88,109.34 L193.03,108.54 L193.19,107.73 L193.34,106.93 L193.49,106.12 L193.64,105.31 L193.79,104.51 L193.94,103.70 L194.08,102.89 L194.22,102.08 L194.36,101.27 L194.50,100.47 L194.64,99.66 L194.77,98.85 L194.90,98.04 L195.03,97.23 L195.15,96.42 L195.27,95.61 L195.39,94.80 L195.50,93.99 L195.61,93.17 L195.71,92.36 L195.82,91.55 L195.92,90.73 L196.02,89.92 L196.11,89.10 L196.21,88.29 L196.30,87.47 L196.40,86.66 L196.49,85.84 L196.59,85.03 L196.68,84.21 L196.78,83.40 L196.87,82.59 L196.97,81.77 L197.08,80.96 L197.18,80.14 L197.29,79.33 L197.40,78.52 L197.51,77.71 L197.63,76.89 L197.75,76.08 L197.87,75.27 L197.99,74.46 L198.11,73.65 L198.22,72.84 L198.34,72.03 L198.46,71.21 L198.57,70.40 L198.68,69.59 L198.79,68.78 L198.89,67.96 L198.99,67.15 L199.09,66.34 L199.18,65.52 L199.27,64.71 L199.36,63.89 L199.45,63.08 L199.54,62.26 L199.62,61.44 L199.70,60.63 L199.79,59.81 L199.87,59.00 L199.95,58.18 L200.03,57.36 L200.11,56.55 L200.19,55.73 L200.27,54.91 L200.35,54.10 L200.43,53.28 L200.51,52.47 L200.58,51.65 L200.65,50.83 L200.72,50.01 L200.79,49.19 L200.86,48.37 L200.93,47.56 L201.00,46.74 L201.07,45.92 L201.14,45.10 L201.21,44.29 L201.30,43.47 L201.38,42.66 L201.47,41.84 L201.57,41.03 L201.67,40.22 L201.78,39.41 L201.91,38.60 L202.05,37.78 L202.20,36.97 L202.36,36.17 L202.54,35.36 L202.73,34.57 L202.93,33.78 L203.15,32.96 L203.40,32.04 L203.70,31.05 L204.01,30.04 L204.35,29.07 L204.69,28.20 L205.04,27.48 L205.38,26.97 L205.70,26.72 L206.02,26.77 L206.36,27.13 L206.72,27.73 L207.08,28.51 L207.43,29.43 L207.76,30.42 L208.05,31.43 L208.29,32.41 L208.47,33.30 L208.58,34.10 L208.68,34.91 L208.76,35.72 L208.84,36.54 L208.90,37.36 L208.96,38.19 L209.02,39.01 L209.09,39.83 L209.15,40.65 L209.22,41.47 L209.28,42.29 L209.35,43.10 L209.41,43.92 L209.47,44.74 L209.53,45.56 L209.59,46.38 L209.64,47.19 L209.70,48.01 L209.76,48.83 L209.82,49.65 L209.87,50.47 L209.93,51.28 L209.99,52.10 L210.05,52.92 L210.11,53.74 L210.17,54.56 L210.23,55.37 L210.29,56.19 L210.36,57.01 L210.42,57.83 L210.48,58.64 L210.54,59.46 L210.61,60.28 L210.67,61.10 L210.73,61.91 L210.79,62.73 L210.85,63.55 L210.91,64.37 L210.97,65.19 L211.02,66.00 L211.08,66.82 L211.14,67.64 L211.19,68.46 L211.24,69.28 L211.29,70.10 L211.34,70.91 L211.39,71.73 L211.44,72.55 L211.49,73.37 L211.54,74.19 L211.59,75.01 L211.64,75.83 L211.69,76.64 L211.74,77.46 L211.79,78.28 L211.84,79.10 L211.89,79.92 L211.95,80.74 L212.00,81.55 L212.06,82.37 L212.11,83.19 L212.16,84.01 L212.22,84.83 L212.27,85.65 L212.33,86.47 L212.39,87.28 L212.44,88.10 L212.50,88.92 L212.56,89.74 L212.62,90.56 L212.68,91.37 L212.74,92.19 L212.80,93.01 L212.87,93.83 L212.94,94.64 L213.01,95.46 L213.07,96.28 L213.14,97.09 L213.22,97.91 L213.29,98.73 L213.36,99.55 L213.44,100.36 L213.51,101.18 L213.59,102.00 L213.67,102.82 L213.75,103.63 L213.84,104.45 L213.92,105.27 L214.01,106.08 L214.11,106.90 L214.20,107.71 L214.30,108.52 L214.40,109.33 L214.51,110.15 L214.62,110.96 L214.74,111.77 L214.87,112.57 L215.01,113.38 L215.16,114.19 L215.32,114.99 L215.48,115.79 L215.65,116.60 L215.82,117.40 L215.99,118.20 L216.17,119.01 L216.34,119.81 L216.51,120.61 L216.68,121.42 L216.85,122.22 L217.00,123.02 L217.16,123.83 L217.31,124.64 L217.46,125.44 L217.61,126.25 L217.76,127.06 L217.91,127.86 L218.07,128.67 L218.22,129.47 L218.39,130.28 L218.56,131.08 L218.72,131.93 L218.87,132.81 L219.02,133.70 L219.19,134.56 L219.38,135.38 L219.60,136.12 L219.87,136.76 L220.21,137.29 L220.73,137.77 L221.40,138.21 L222.20,138.60 L223.07,138.94 L224.00,139.20 L263.30,139.20" fill="none" stroke="#000" stroke-width="2.0" stroke-linejoin="round" fill="none"/>
<line x1="139.70000000000002" y1="140.6" x2="142.9" y2="140.6" stroke="#111" stroke-width="1.0"/>
<line x1="141.3" y1="134.84" x2="142.9" y2="134.84" stroke="#111" stroke-width="1.0"/>
<line x1="141.3" y1="129.07999999999998" x2="142.9" y2="129.07999999999998" stroke="#111" stroke-width="1.0"/>
<line x1="141.3" y1="123.32" x2="142.9" y2="123.32" stroke="#111" stroke-width="1.0"/>
<line x1="139.70000000000002" y1="117.56" x2="142.9" y2="117.56" stroke="#111" stroke-width="1.0"/>
<line x1="141.3" y1="111.8" x2="142.9" y2="111.8" stroke="#111" stroke-width="1.0"/>
<line x1="141.3" y1="106.03999999999999" x2="142.9" y2="106.03999999999999" stroke="#111" stroke-width="1.0"/>
<line x1="141.3" y1="100.28" x2="142.9" y2="100.28" stroke="#111" stroke-width="1.0"/>
<line x1="139.70000000000002" y1="94.52" x2="142.9" y2="94.52" stroke="#111" stroke-width="1.0"/>
<line x1="141.3" y1="88.75999999999999" x2="142.9" y2="88.75999999999999" stroke="#111" stroke-width="1.0"/>
<line x1="141.3" y1="83.0" x2="142.9" y2="83.0" stroke="#111" stroke-width="1.0"/>
<line x1="141.3" y1="77.24" x2="142.9" y2="77.24" stroke="#111" stroke-width="1.0"/>
<line x1="139.70000000000002" y1="71.47999999999999" x2="142.9" y2="71.47999999999999" stroke="#111" stroke-width="1.0"/>
<line x1="141.3" y1="65.72" x2="142.9" y2="65.72" stroke="#111" stroke-width="1.0"/>
<line x1="141.3" y1="59.959999999999994" x2="142.9" y2="59.959999999999994" stroke="#111" stroke-width="1.0"/>
<line x1="141.3" y1="54.2" x2="142.9" y2="54.2" stroke="#111" stroke-width="1.0"/>
<line x1="139.70000000000002" y1="48.44" x2="142.9" y2="48.44" stroke="#111" stroke-width="1.0"/>
<line x1="141.3" y1="42.67999999999999" x2="142.9" y2="42.67999999999999" stroke="#111" stroke-width="1.0"/>
<line x1="141.3" y1="36.92" x2="142.9" y2="36.92" stroke="#111" stroke-width="1.0"/>
<line x1="141.3" y1="31.159999999999997" x2="142.9" y2="31.159999999999997" stroke="#111" stroke-width="1.0"/>
<line x1="139.70000000000002" y1="25.400000000000006" x2="142.9" y2="25.400000000000006" stroke="#111" stroke-width="1.0"/>
<line x1="144.0" y1="140.6" x2="144.0" y2="143.6" stroke="#111" stroke-width="0.9"/>
<line x1="153.0" y1="140.6" x2="153.0" y2="142.79999999999998" stroke="#111" stroke-width="0.9"/>
<line x1="158.0" y1="140.6" x2="158.0" y2="142.79999999999998" stroke="#111" stroke-width="0.9"/>
<line x1="162.0" y1="140.6" x2="162.0" y2="142.79999999999998" stroke="#111" stroke-width="0.9"/>
<line x1="165.0" y1="140.6" x2="165.0" y2="142.79999999999998" stroke="#111" stroke-width="0.9"/>
<line x1="167.0" y1="140.6" x2="167.0" y2="142.79999999999998" stroke="#111" stroke-width="0.9"/>
<line x1="169.0" y1="140.6" x2="169.0" y2="142.79999999999998" stroke="#111" stroke-width="0.9"/>
<line x1="171.0" y1="140.6" x2="171.0" y2="142.79999999999998" stroke="#111" stroke-width="0.9"/>
<line x1="172.5" y1="140.6" x2="172.5" y2="142.79999999999998" stroke="#111" stroke-width="0.9"/>
<line x1="174.0" y1="140.6" x2="174.0" y2="143.6" stroke="#111" stroke-width="0.9"/>
<line x1="182.5" y1="140.6" x2="182.5" y2="142.79999999999998" stroke="#111" stroke-width="0.9"/>
<line x1="188.0" y1="140.6" x2="188.0" y2="142.79999999999998" stroke="#111" stroke-width="0.9"/>
<line x1="191.5" y1="140.6" x2="191.5" y2="142.79999999999998" stroke="#111" stroke-width="0.9"/>
<line x1="194.5" y1="140.6" x2="194.5" y2="142.79999999999998" stroke="#111" stroke-width="0.9"/>
<line x1="197.0" y1="140.6" x2="197.0" y2="142.79999999999998" stroke="#111" stroke-width="0.9"/>
<line x1="199.0" y1="140.6" x2="199.0" y2="142.79999999999998" stroke="#111" stroke-width="0.9"/>
<line x1="200.5" y1="140.6" x2="200.5" y2="142.79999999999998" stroke="#111" stroke-width="0.9"/>
<line x1="202.0" y1="140.6" x2="202.0" y2="142.79999999999998" stroke="#111" stroke-width="0.9"/>
<line x1="203.5" y1="140.6" x2="203.5" y2="143.6" stroke="#111" stroke-width="0.9"/>
<line x1="212.5" y1="140.6" x2="212.5" y2="142.79999999999998" stroke="#111" stroke-width="0.9"/>
<line x1="218.0" y1="140.6" x2="218.0" y2="142.79999999999998" stroke="#111" stroke-width="0.9"/>
<line x1="221.5" y1="140.6" x2="221.5" y2="142.79999999999998" stroke="#111" stroke-width="0.9"/>
<line x1="224.5" y1="140.6" x2="224.5" y2="142.79999999999998" stroke="#111" stroke-width="0.9"/>
<line x1="227.0" y1="140.6" x2="227.0" y2="142.79999999999998" stroke="#111" stroke-width="0.9"/>
<line x1="229.0" y1="140.6" x2="229.0" y2="142.79999999999998" stroke="#111" stroke-width="0.9"/>
<line x1="230.5" y1="140.6" x2="230.5" y2="142.79999999999998" stroke="#111" stroke-width="0.9"/>
<line x1="232.0" y1="140.6" x2="232.0" y2="142.79999999999998" stroke="#111" stroke-width="0.9"/>
<line x1="233.5" y1="140.6" x2="233.5" y2="143.6" stroke="#111" stroke-width="0.9"/>
<line x1="242.5" y1="140.6" x2="242.5" y2="142.79999999999998" stroke="#111" stroke-width="0.9"/>
<line x1="247.5" y1="140.6" x2="247.5" y2="142.79999999999998" stroke="#111" stroke-width="0.9"/>
<line x1="251.5" y1="140.6" x2="251.5" y2="142.79999999999998" stroke="#111" stroke-width="0.9"/>
<line x1="254.5" y1="140.6" x2="254.5" y2="142.79999999999998" stroke="#111" stroke-width="0.9"/>
<line x1="256.5" y1="140.6" x2="256.5" y2="142.79999999999998" stroke="#111" stroke-width="0.9"/>
<line x1="258.5" y1="140.6" x2="258.5" y2="142.79999999999998" stroke="#111" stroke-width="0.9"/>
<line x1="260.5" y1="140.6" x2="260.5" y2="142.79999999999998" stroke="#111" stroke-width="0.9"/>
<line x1="262.0" y1="140.6" x2="262.0" y2="142.79999999999998" stroke="#111" stroke-width="0.9"/>
<line x1="263.5" y1="140.6" x2="263.5" y2="143.6" stroke="#111" stroke-width="0.9"/>
<rect x="142.90" y="19.40" width="120.80" height="121.00" fill="none" stroke="#000" stroke-width="1.2"/>
<line x1="142.3" y1="139.8" x2="264.3" y2="139.8" stroke="#000" stroke-width="1.8"/>
<text transform="translate(108.27,33.39) scale(1.030,1)" font-size="11.29" font-weight="normal" font-style="normal" fill="#000">Th0</text>
<text transform="translate(237.99,34.40) scale(0.926,1)" font-size="11.59" font-weight="normal" font-style="normal" fill="#000">Th1</text>
<text transform="translate(8.43,109.88) rotate(-90) scale(1.312,1)" font-size="10.33" font-weight="normal" font-style="normal" fill="#000">Frequency</text>
<line x1="17" y1="150.9" x2="124.5" y2="150.9" stroke="#333" stroke-width="1.3"/>
<text transform="translate(125.47,154.78) scale(0.976,1)" font-size="11.56" font-weight="normal" font-style="normal" fill="#000">T-bet</text>
<line x1="152.5" y1="150.9" x2="256" y2="150.9" stroke="#333" stroke-width="1.3"/>
<path d="M255,147.3 L264,150.9 L255,154.4 L256.5,150.9 Z" fill="#000" stroke="none" stroke-width="1"/>
<text transform="translate(340.96,12.68) scale(0.988,1)" font-size="12.31" font-weight="normal" font-style="normal" fill="#000">Th0</text>
<text transform="translate(289.98,140.07) rotate(-90) scale(1.022,1)" font-size="11.84" font-weight="normal" font-style="normal" fill="#000">Normalized T-bet MFI</text>
<line x1="335.04999999999995" y1="71.8" x2="335.04999999999995" y2="60.3" stroke="#333" stroke-width="1.4"/>
<line x1="328.4" y1="60.3" x2="341.4" y2="60.3" stroke="#333" stroke-width="1.5999999999999999"/>
<rect x="323.10" y="72.50" width="23.90" height="71.30" fill="#fff" stroke="#000" stroke-width="1.4"/>
<rect x="359.30" y="17.80" width="26.10" height="126.00" fill="#000"/>
<line x1="316.3" y1="17.2" x2="316.3" y2="144.4" stroke="#000" stroke-width="1.3"/>
<line x1="313.1" y1="17.8" x2="316.3" y2="17.8" stroke="#000" stroke-width="1.3"/>
<line x1="313.1" y1="81.2" x2="316.3" y2="81.2" stroke="#000" stroke-width="1.3"/>
<line x1="313.1" y1="143.8" x2="316.3" y2="143.8" stroke="#000" stroke-width="1.3"/>
<line x1="316.3" y1="143.8" x2="385.6" y2="143.8" stroke="#000" stroke-width="1.7"/>
<line x1="335.3" y1="143.8" x2="335.3" y2="148" stroke="#000" stroke-width="1.3"/>
<line x1="372.3" y1="143.8" x2="372.3" y2="148" stroke="#000" stroke-width="1.3"/>
<text transform="translate(296.65,21.09) scale(1.002,1)" font-size="11.27" font-weight="normal" font-style="normal" fill="#000">1.0</text>
<text transform="translate(296.85,85.08) scale(0.965,1)" font-size="11.55" font-weight="normal" font-style="normal" fill="#000">0.5</text>
<text transform="translate(295.95,146.68) scale(0.985,1)" font-size="11.55" font-weight="normal" font-style="normal" fill="#000">0.0</text>
<text transform="translate(323.22,160.10) scale(1.075,1)" font-size="11.45" font-weight="normal" font-style="normal" fill="#000">RTE</text>
<text transform="translate(362.68,160.10) scale(1.108,1)" font-size="11.45" font-weight="normal" font-style="normal" fill="#000">MN</text>
<path d="M332.43,51.83 L333.39,53.47 L335.24,53.87 L333.98,55.29 L334.17,57.17 L332.43,56.41 L330.70,57.17 L330.89,55.29 L329.62,53.87 L331.48,53.47 Z" fill="#000" stroke="#000" stroke-width="0.25" stroke-linejoin="round"/>
<path d="M340.07,51.83 L341.02,53.47 L342.87,53.87 L341.61,55.29 L341.80,57.17 L340.07,56.41 L338.33,57.17 L338.52,55.29 L337.26,53.87 L339.11,53.47 Z" fill="#000" stroke="#000" stroke-width="0.25" stroke-linejoin="round"/>
<text transform="translate(465.88,12.70) scale(0.889,1)" font-size="12.34" font-weight="normal" font-style="normal" fill="#000">Th1</text>
<text transform="translate(415.18,140.07) rotate(-90) scale(1.022,1)" font-size="11.84" font-weight="normal" font-style="normal" fill="#000">Normalized T-bet MFI</text>
<line x1="460.25" y1="35.8" x2="460.25" y2="28.8" stroke="#333" stroke-width="1.4"/>
<line x1="453.1" y1="28.8" x2="465.7" y2="28.8" stroke="#333" stroke-width="1.5999999999999999"/>
<rect x="448.30" y="36.50" width="23.90" height="106.80" fill="#fff" stroke="#000" stroke-width="1.4"/>
<rect x="484.50" y="17.20" width="26.10" height="126.10" fill="#000"/>
<line x1="441.5" y1="16.599999999999998" x2="441.5" y2="143.9" stroke="#000" stroke-width="1.3"/>
<line x1="438.3" y1="17.2" x2="441.5" y2="17.2" stroke="#000" stroke-width="1.3"/>
<line x1="438.3" y1="80.3" x2="441.5" y2="80.3" stroke="#000" stroke-width="1.3"/>
<line x1="438.3" y1="143.3" x2="441.5" y2="143.3" stroke="#000" stroke-width="1.3"/>
<line x1="441.5" y1="143.3" x2="510.8" y2="143.3" stroke="#000" stroke-width="1.7"/>
<line x1="460.5" y1="143.3" x2="460.5" y2="148" stroke="#000" stroke-width="1.3"/>
<line x1="497.5" y1="143.3" x2="497.5" y2="148" stroke="#000" stroke-width="1.3"/>
<text transform="translate(421.85,20.49) scale(1.002,1)" font-size="11.27" font-weight="normal" font-style="normal" fill="#000">1.0</text>
<text transform="translate(422.05,84.18) scale(0.965,1)" font-size="11.55" font-weight="normal" font-style="normal" fill="#000">0.5</text>
<text transform="translate(421.15,146.18) scale(0.985,1)" font-size="11.55" font-weight="normal" font-style="normal" fill="#000">0.0</text>
<text transform="translate(448.42,160.10) scale(1.075,1)" font-size="11.45" font-weight="normal" font-style="normal" fill="#000">RTE</text>
<text transform="translate(487.88,160.10) scale(1.108,1)" font-size="11.45" font-weight="normal" font-style="normal" fill="#000">MN</text>
<path d="M459.60,20.73 L460.58,22.43 L462.48,22.84 L461.18,24.31 L461.38,26.27 L459.60,25.48 L457.82,26.27 L458.02,24.31 L456.73,22.84 L458.62,22.43 Z" fill="#000" stroke="#000" stroke-width="0.25" stroke-linejoin="round"/>
<text transform="translate(0.91,178.40) scale(1.052,1)" font-size="14.49" font-weight="bold" font-style="normal" fill="#000" stroke="#000" stroke-width="0.319">B</text>
<text transform="translate(179.63,178.66) scale(0.999,1)" font-size="14.37" font-weight="bold" font-style="normal" fill="#000" stroke="#000" stroke-width="0.316">C</text>
<text transform="translate(357.98,179.20) scale(0.996,1)" font-size="14.20" font-weight="bold" font-style="normal" fill="#000" stroke="#000" stroke-width="0.312">D</text>
<text transform="translate(64.34,183.68) scale(0.976,1)" font-size="12.11" font-weight="normal" font-style="italic" fill="#000" stroke="#000" stroke-width="0.266">Tbx21</text>
<text transform="translate(246.12,183.39) scale(1.055,1)" font-size="11.29" font-weight="normal" font-style="italic" fill="#000" stroke="#000" stroke-width="0.248">Il12rb1</text>
<text transform="translate(424.33,183.49) scale(1.088,1)" font-size="11.27" font-weight="normal" font-style="italic" fill="#000" stroke="#000" stroke-width="0.248">Cxcr3</text>
<line x1="3.5" y1="187" x2="163" y2="187" stroke="#5a5a5a" stroke-width="1.3"/>
<line x1="184.7" y1="187" x2="348" y2="187" stroke="#5a5a5a" stroke-width="1.3"/>
<line x1="360" y1="187" x2="520" y2="187" stroke="#5a5a5a" stroke-width="1.3"/>
<text transform="translate(9.14,299.75) rotate(-90) scale(1.060,1)" font-size="11.23" font-weight="normal" font-style="normal" fill="#000" stroke="#000" stroke-width="0.247">Relative expression</text>
<text transform="translate(30.14,205.99) scale(1.076,1)" font-size="11.16" font-weight="normal" font-style="normal" fill="#000" stroke="#000" stroke-width="0.245">Ex vivo</text>
<rect x="55.00" y="212.30" width="13.80" height="80.20" fill="#000"/>
<line x1="41.9" y1="263" x2="41.9" y2="256.8" stroke="#333" stroke-width="1.1"/>
<line x1="38.3" y1="256.8" x2="46.1" y2="256.8" stroke="#333" stroke-width="1.3"/>
<rect x="35.55" y="263.55" width="12.70" height="28.95" fill="#fff" stroke="#000" stroke-width="1.1"/>
<line x1="32.0" y1="211.8" x2="32.0" y2="292.5" stroke="#555" stroke-width="1.3"/>
<line x1="29.8" y1="212.3" x2="32.0" y2="212.3" stroke="#333" stroke-width="1.1"/>
<line x1="29.8" y1="252.4" x2="32.0" y2="252.4" stroke="#333" stroke-width="1.1"/>
<line x1="29.8" y1="292.5" x2="70.3" y2="292.5" stroke="#000" stroke-width="1.3"/>
<text transform="translate(14.07,214.90) scale(1.091,1)" font-size="10.14" font-weight="normal" font-style="normal" fill="#000" stroke="#000" stroke-width="0.223">1.0</text>
<text transform="translate(14.47,254.91) scale(1.141,1)" font-size="9.44" font-weight="normal" font-style="normal" fill="#000" stroke="#000" stroke-width="0.208">0.5</text>
<text transform="translate(14.47,295.40) scale(1.108,1)" font-size="9.72" font-weight="normal" font-style="normal" fill="#000" stroke="#000" stroke-width="0.214">0.0</text>
<path d="M41.70,247.93 L42.85,249.81 L45.08,250.27 L43.56,251.90 L43.79,254.07 L41.70,253.19 L39.61,254.07 L39.84,251.90 L38.33,250.27 L40.55,249.81 Z" fill="#000" stroke="#000" stroke-width="0.25" stroke-linejoin="round"/>
<text transform="translate(86.97,204.89) scale(1.042,1)" font-size="11.16" font-weight="normal" font-style="normal" fill="#000" stroke="#000" stroke-width="0.245">Th0</text>
<rect x="101.60" y="212.30" width="13.80" height="80.20" fill="#000"/>
<line x1="89.0" y1="276.3" x2="89.0" y2="272.1" stroke="#333" stroke-width="1.1"/>
<line x1="85.1" y1="272.1" x2="92.1" y2="272.1" stroke="#333" stroke-width="1.3"/>
<rect x="83.05" y="276.85" width="11.90" height="15.65" fill="#fff" stroke="#000" stroke-width="1.1"/>
<line x1="77.8" y1="211.8" x2="77.8" y2="292.5" stroke="#555" stroke-width="1.3"/>
<line x1="75.6" y1="212.3" x2="77.8" y2="212.3" stroke="#333" stroke-width="1.1"/>
<line x1="75.6" y1="252.4" x2="77.8" y2="252.4" stroke="#333" stroke-width="1.1"/>
<line x1="75.6" y1="292.5" x2="116.9" y2="292.5" stroke="#000" stroke-width="1.3"/>
<path d="M85.09,263.42 L86.03,265.25 L87.86,265.70 L86.61,267.27 L86.80,269.38 L85.09,268.52 L83.38,269.38 L83.57,267.27 L82.33,265.70 L84.15,265.25 Z" fill="#000" stroke="#000" stroke-width="0.25" stroke-linejoin="round"/>
<path d="M92.61,263.42 L93.55,265.25 L95.38,265.70 L94.13,267.27 L94.32,269.38 L92.61,268.52 L90.90,269.38 L91.09,267.27 L89.84,265.70 L91.67,265.25 Z" fill="#000" stroke="#000" stroke-width="0.25" stroke-linejoin="round"/>
<text transform="translate(135.49,205.40) scale(0.899,1)" font-size="11.72" font-weight="normal" font-style="normal" fill="#000" stroke="#000" stroke-width="0.258">Th1</text>
<rect x="146.90" y="212.30" width="13.90" height="80.20" fill="#000"/>
<line x1="134.14999999999998" y1="228.2" x2="134.14999999999998" y2="227.4" stroke="#333" stroke-width="1.1"/>
<rect x="127.65" y="228.75" width="13.00" height="63.75" fill="#fff" stroke="#000" stroke-width="1.1"/>
<line x1="124.3" y1="211.8" x2="124.3" y2="292.5" stroke="#555" stroke-width="1.3"/>
<line x1="122.1" y1="212.3" x2="124.3" y2="212.3" stroke="#333" stroke-width="1.1"/>
<line x1="122.1" y1="252.4" x2="124.3" y2="252.4" stroke="#333" stroke-width="1.1"/>
<line x1="122.1" y1="292.5" x2="162.3" y2="292.5" stroke="#000" stroke-width="1.3"/>
<path d="M130.54,220.43 L131.54,222.25 L133.46,222.70 L132.15,224.27 L132.35,226.38 L130.54,225.52 L128.74,226.38 L128.94,224.27 L127.62,222.70 L129.55,222.25 Z" fill="#000" stroke="#000" stroke-width="0.25" stroke-linejoin="round"/>
<path d="M138.46,220.43 L139.45,222.25 L141.38,222.70 L140.06,224.27 L140.26,226.38 L138.46,225.52 L136.65,226.38 L136.85,224.27 L135.54,222.70 L137.46,222.25 Z" fill="#000" stroke="#000" stroke-width="0.25" stroke-linejoin="round"/>
<text transform="translate(188.15,299.75) rotate(-90) scale(1.021,1)" font-size="11.66" font-weight="normal" font-style="normal" fill="#000" stroke="#000" stroke-width="0.256">Relative expression</text>
<text transform="translate(208.84,205.99) scale(1.076,1)" font-size="11.16" font-weight="normal" font-style="normal" fill="#000" stroke="#000" stroke-width="0.245">Ex vivo</text>
<rect x="233.80" y="212.30" width="13.70" height="80.70" fill="#000"/>
<line x1="220.95" y1="255" x2="220.95" y2="254" stroke="#333" stroke-width="1.1"/>
<rect x="214.55" y="255.55" width="12.80" height="37.45" fill="#fff" stroke="#000" stroke-width="1.1"/>
<line x1="210.8" y1="211.8" x2="210.8" y2="293" stroke="#555" stroke-width="1.3"/>
<line x1="208.60000000000002" y1="212.3" x2="210.8" y2="212.3" stroke="#333" stroke-width="1.1"/>
<line x1="208.60000000000002" y1="252.65" x2="210.8" y2="252.65" stroke="#333" stroke-width="1.1"/>
<line x1="208.60000000000002" y1="293" x2="249.0" y2="293" stroke="#000" stroke-width="1.3"/>
<text transform="translate(193.01,215.50) scale(1.044,1)" font-size="10.14" font-weight="normal" font-style="normal" fill="#000" stroke="#000" stroke-width="0.223">1.0</text>
<text transform="translate(193.39,255.51) scale(1.092,1)" font-size="9.44" font-weight="normal" font-style="normal" fill="#000" stroke="#000" stroke-width="0.208">0.5</text>
<text transform="translate(193.39,296.00) scale(1.060,1)" font-size="9.72" font-weight="normal" font-style="normal" fill="#000" stroke="#000" stroke-width="0.214">0.0</text>
<path d="M217.13,246.32 L218.09,248.15 L219.94,248.60 L218.68,250.17 L218.87,252.28 L217.13,251.42 L215.40,252.28 L215.59,250.17 L214.32,248.60 L216.18,248.15 Z" fill="#000" stroke="#000" stroke-width="0.25" stroke-linejoin="round"/>
<path d="M224.77,246.32 L225.72,248.15 L227.57,248.60 L226.31,250.17 L226.50,252.28 L224.77,251.42 L223.03,252.28 L223.22,250.17 L221.96,248.60 L223.81,248.15 Z" fill="#000" stroke="#000" stroke-width="0.25" stroke-linejoin="round"/>
<text transform="translate(265.77,204.89) scale(1.042,1)" font-size="11.16" font-weight="normal" font-style="normal" fill="#000" stroke="#000" stroke-width="0.245">Th0</text>
<rect x="280.20" y="212.30" width="13.80" height="80.70" fill="#000"/>
<line x1="266.9" y1="271.1" x2="266.9" y2="264.9" stroke="#333" stroke-width="1.1"/>
<line x1="263.1" y1="264.9" x2="270" y2="264.9" stroke="#333" stroke-width="1.3"/>
<rect x="260.55" y="271.65" width="12.70" height="21.35" fill="#fff" stroke="#000" stroke-width="1.1"/>
<line x1="256.6" y1="211.8" x2="256.6" y2="293" stroke="#555" stroke-width="1.3"/>
<line x1="254.40000000000003" y1="212.3" x2="256.6" y2="212.3" stroke="#333" stroke-width="1.1"/>
<line x1="254.40000000000003" y1="252.65" x2="256.6" y2="252.65" stroke="#333" stroke-width="1.1"/>
<line x1="254.40000000000003" y1="293" x2="295.5" y2="293" stroke="#000" stroke-width="1.3"/>
<path d="M260.73,255.32 L261.65,257.15 L263.44,257.60 L262.22,259.17 L262.41,261.27 L260.73,260.42 L259.06,261.27 L259.24,259.17 L258.02,257.60 L259.81,257.15 Z" fill="#000" stroke="#000" stroke-width="0.25" stroke-linejoin="round"/>
<path d="M268.10,255.32 L269.02,257.15 L270.81,257.60 L269.59,259.17 L269.77,261.27 L268.10,260.42 L266.43,261.27 L266.61,259.17 L265.39,257.60 L267.18,257.15 Z" fill="#000" stroke="#000" stroke-width="0.25" stroke-linejoin="round"/>
<path d="M275.47,255.32 L276.39,257.15 L278.17,257.60 L276.96,259.17 L277.14,261.27 L275.47,260.42 L273.79,261.27 L273.98,259.17 L272.76,257.60 L274.55,257.15 Z" fill="#000" stroke="#000" stroke-width="0.25" stroke-linejoin="round"/>
<text transform="translate(314.28,205.40) scale(0.930,1)" font-size="11.72" font-weight="normal" font-style="normal" fill="#000" stroke="#000" stroke-width="0.258">Th1</text>
<rect x="324.50" y="212.30" width="15.00" height="80.70" fill="#000"/>
<line x1="311.75" y1="251.3" x2="311.75" y2="249.4" stroke="#333" stroke-width="1.1"/>
<line x1="308" y1="249.4" x2="314.8" y2="249.4" stroke="#333" stroke-width="1.3"/>
<rect x="305.25" y="251.85" width="13.00" height="41.15" fill="#fff" stroke="#000" stroke-width="1.1"/>
<line x1="301.6" y1="211.8" x2="301.6" y2="293" stroke="#555" stroke-width="1.3"/>
<line x1="299.40000000000003" y1="212.3" x2="301.6" y2="212.3" stroke="#333" stroke-width="1.1"/>
<line x1="299.40000000000003" y1="252.65" x2="301.6" y2="252.65" stroke="#333" stroke-width="1.1"/>
<line x1="299.40000000000003" y1="293" x2="341.0" y2="293" stroke="#000" stroke-width="1.3"/>
<path d="M305.99,241.12 L306.90,242.86 L308.66,243.28 L307.46,244.78 L307.64,246.77 L305.99,245.97 L304.34,246.77 L304.53,244.78 L303.32,243.28 L305.09,242.86 Z" fill="#000" stroke="#000" stroke-width="0.25" stroke-linejoin="round"/>
<path d="M313.25,241.12 L314.16,242.86 L315.92,243.28 L314.72,244.78 L314.90,246.77 L313.25,245.97 L311.60,246.77 L311.78,244.78 L310.58,243.28 L312.34,242.86 Z" fill="#000" stroke="#000" stroke-width="0.25" stroke-linejoin="round"/>
<path d="M320.51,241.12 L321.41,242.86 L323.18,243.28 L321.98,244.78 L322.16,246.77 L320.51,245.97 L318.86,246.77 L319.04,244.78 L317.84,243.28 L319.60,242.86 Z" fill="#000" stroke="#000" stroke-width="0.25" stroke-linejoin="round"/>
<rect x="221.00" y="304.70" width="19.20" height="9.80" fill="#fff" stroke="#000" stroke-width="1.1"/>
<text transform="translate(245.05,314.40) scale(0.927,1)" font-size="12.75" font-weight="normal" font-style="normal" fill="#000" stroke="#000" stroke-width="0.281">RTE</text>
<rect x="279.20" y="304.90" width="21.00" height="10.30" fill="#000"/>
<text transform="translate(303.68,314.40) scale(0.905,1)" font-size="12.75" font-weight="normal" font-style="normal" fill="#000" stroke="#000" stroke-width="0.281">MN</text>
<text transform="translate(366.08,299.85) rotate(-90) scale(0.994,1)" font-size="11.98" font-weight="normal" font-style="normal" fill="#000" stroke="#000" stroke-width="0.264">Relative expression</text>
<text transform="translate(384.54,205.99) scale(1.079,1)" font-size="11.16" font-weight="normal" font-style="normal" fill="#000" stroke="#000" stroke-width="0.245">Ex vivo</text>
<rect x="409.80" y="212.30" width="14.00" height="80.90" fill="#000"/>
<line x1="397.05" y1="286.1" x2="397.05" y2="285.5" stroke="#333" stroke-width="1.1"/>
<rect x="390.55" y="286.65" width="13.00" height="6.55" fill="#fff" stroke="#000" stroke-width="1.1"/>
<line x1="386.6" y1="211.8" x2="386.6" y2="293.2" stroke="#555" stroke-width="1.3"/>
<line x1="384.40000000000003" y1="212.3" x2="386.6" y2="212.3" stroke="#333" stroke-width="1.1"/>
<line x1="384.40000000000003" y1="252.75" x2="386.6" y2="252.75" stroke="#333" stroke-width="1.1"/>
<line x1="384.40000000000003" y1="293.2" x2="425.3" y2="293.2" stroke="#000" stroke-width="1.3"/>
<text transform="translate(369.55,215.50) scale(0.990,1)" font-size="10.14" font-weight="normal" font-style="normal" fill="#000" stroke="#000" stroke-width="0.223">1.0</text>
<text transform="translate(369.91,255.51) scale(1.035,1)" font-size="9.44" font-weight="normal" font-style="normal" fill="#000" stroke="#000" stroke-width="0.208">0.5</text>
<text transform="translate(369.91,296.00) scale(1.005,1)" font-size="9.72" font-weight="normal" font-style="normal" fill="#000" stroke="#000" stroke-width="0.214">0.0</text>
<path d="M390.21,276.02 L391.09,277.70 L392.79,278.11 L391.63,279.55 L391.80,281.48 L390.21,280.69 L388.61,281.48 L388.79,279.55 L387.62,278.11 L389.33,277.70 Z" fill="#000" stroke="#000" stroke-width="0.25" stroke-linejoin="round"/>
<path d="M397.25,276.02 L398.13,277.70 L399.83,278.11 L398.67,279.55 L398.85,281.48 L397.25,280.69 L395.65,281.48 L395.83,279.55 L394.67,278.11 L396.37,277.70 Z" fill="#000" stroke="#000" stroke-width="0.25" stroke-linejoin="round"/>
<path d="M404.29,276.02 L405.17,277.70 L406.87,278.11 L405.71,279.55 L405.89,281.48 L404.29,280.69 L402.70,281.48 L402.87,279.55 L401.71,278.11 L403.41,277.70 Z" fill="#000" stroke="#000" stroke-width="0.25" stroke-linejoin="round"/>
<text transform="translate(442.36,206.69) scale(1.033,1)" font-size="11.43" font-weight="normal" font-style="normal" fill="#000" stroke="#000" stroke-width="0.251">Th0</text>
<rect x="455.50" y="212.30" width="14.00" height="80.90" fill="#000"/>
<line x1="442.15" y1="276.1" x2="442.15" y2="275" stroke="#333" stroke-width="1.1"/>
<rect x="435.55" y="276.65" width="13.20" height="16.55" fill="#fff" stroke="#000" stroke-width="1.1"/>
<line x1="432.2" y1="211.8" x2="432.2" y2="293.2" stroke="#555" stroke-width="1.3"/>
<line x1="430.0" y1="212.3" x2="432.2" y2="212.3" stroke="#333" stroke-width="1.1"/>
<line x1="430.0" y1="252.75" x2="432.2" y2="252.75" stroke="#333" stroke-width="1.1"/>
<line x1="430.0" y1="293.2" x2="471.0" y2="293.2" stroke="#000" stroke-width="1.3"/>
<path d="M436.19,266.33 L437.10,268.03 L438.86,268.44 L437.66,269.91 L437.84,271.88 L436.19,271.08 L434.54,271.88 L434.73,269.91 L433.52,268.44 L435.29,268.03 Z" fill="#000" stroke="#000" stroke-width="0.25" stroke-linejoin="round"/>
<path d="M443.45,266.33 L444.36,268.03 L446.12,268.44 L444.92,269.91 L445.10,271.88 L443.45,271.08 L441.80,271.88 L441.98,269.91 L440.78,268.44 L442.54,268.03 Z" fill="#000" stroke="#000" stroke-width="0.25" stroke-linejoin="round"/>
<path d="M450.71,266.33 L451.61,268.03 L453.38,268.44 L452.18,269.91 L452.36,271.88 L450.71,271.08 L449.06,271.88 L449.24,269.91 L448.04,268.44 L449.80,268.03 Z" fill="#000" stroke="#000" stroke-width="0.25" stroke-linejoin="round"/>
<text transform="translate(489.38,209.20) scale(0.931,1)" font-size="11.59" font-weight="normal" font-style="normal" fill="#000" stroke="#000" stroke-width="0.255">Th1</text>
<rect x="500.50" y="212.30" width="14.00" height="80.90" fill="#000"/>
<line x1="487.15" y1="237.1" x2="487.15" y2="229.4" stroke="#333" stroke-width="1.1"/>
<line x1="483.4" y1="229.4" x2="490.8" y2="229.4" stroke="#333" stroke-width="1.3"/>
<rect x="480.75" y="237.65" width="12.80" height="55.55" fill="#fff" stroke="#000" stroke-width="1.1"/>
<line x1="477.2" y1="211.8" x2="477.2" y2="293.2" stroke="#555" stroke-width="1.3"/>
<line x1="475.0" y1="212.3" x2="477.2" y2="212.3" stroke="#333" stroke-width="1.1"/>
<line x1="475.0" y1="252.75" x2="477.2" y2="252.75" stroke="#333" stroke-width="1.1"/>
<line x1="475.0" y1="293.2" x2="516.0" y2="293.2" stroke="#000" stroke-width="1.3"/>
<path d="M487.55,222.53 L488.65,224.29 L490.77,224.72 L489.32,226.24 L489.54,228.28 L487.55,227.45 L485.56,228.28 L485.78,226.24 L484.32,224.72 L486.45,224.29 Z" fill="#000" stroke="#000" stroke-width="0.25" stroke-linejoin="round"/>
<text transform="translate(0.16,330.00) scale(1.195,1)" font-size="13.33" font-weight="bold" font-style="normal" fill="#000">E</text>
<line x1="49.8" y1="330.6" x2="55.6" y2="330.6" stroke="#000" stroke-width="2"/>
<line x1="65.2" y1="330.6" x2="70.4" y2="330.6" stroke="#000" stroke-width="2"/>
<line x1="79.2" y1="330.6" x2="84.6" y2="330.6" stroke="#000" stroke-width="2"/>
<text transform="translate(94.90,333.71) scale(1.122,1)" font-size="8.84" font-weight="normal" font-style="normal" fill="#000">Control</text>
<rect x="141.30" y="328.20" width="42.00" height="4.80" fill="#777"/>
<text transform="translate(187.29,333.90) scale(1.073,1)" font-size="9.42" font-weight="normal" font-style="normal" fill="#000">RTE</text>
<line x1="214.6" y1="331.2" x2="256" y2="331.2" stroke="#000" stroke-width="2.6"/>
<text transform="translate(260.87,333.90) scale(1.103,1)" font-size="9.42" font-weight="normal" font-style="normal" fill="#000">MN</text>
<path d="M19.80,427.80 L19.80,419.00 L20.22,418.64 L20.64,418.28 L21.05,417.91 L21.46,417.54 L21.85,417.16 L22.23,416.76 L22.60,416.36 L22.96,415.95 L23.32,415.53 L23.67,415.11 L24.02,414.69 L24.37,414.26 L24.71,413.82 L25.05,413.38 L25.38,412.95 L25.72,412.50 L26.05,412.06 L26.39,411.62 L26.72,411.18 L27.06,410.74 L27.39,410.31 L27.73,409.87 L28.07,409.44 L28.41,409.00 L28.75,408.57 L29.08,408.13 L29.42,407.69 L29.75,407.25 L30.08,406.81 L30.41,406.37 L30.73,405.93 L31.06,405.48 L31.38,405.03 L31.70,404.58 L32.02,404.13 L32.35,403.69 L32.68,403.24 L33.01,402.79 L33.33,402.34 L33.66,401.89 L33.99,401.43 L34.31,400.98 L34.62,400.52 L34.93,400.06 L35.23,399.60 L35.53,399.13 L35.81,398.66 L36.08,398.19 L36.34,397.71 L36.59,397.23 L36.82,396.75 L37.05,396.26 L37.26,395.76 L37.48,395.27 L37.68,394.76 L37.88,394.25 L38.07,393.74 L38.26,393.23 L38.45,392.71 L38.63,392.19 L38.81,391.67 L38.98,391.15 L39.15,390.62 L39.32,390.09 L39.49,389.56 L39.65,389.03 L39.82,388.50 L39.98,387.96 L40.14,387.43 L40.30,386.90 L40.46,386.37 L40.62,385.83 L40.78,385.30 L40.94,384.77 L41.11,384.24 L41.27,383.71 L41.44,383.19 L41.61,382.66 L41.78,382.14 L41.96,381.62 L42.13,381.09 L42.31,380.57 L42.48,380.05 L42.66,379.52 L42.84,379.00 L43.02,378.48 L43.19,377.95 L43.37,377.43 L43.54,376.90 L43.72,376.38 L43.89,375.85 L44.05,375.33 L44.22,374.80 L44.38,374.27 L44.53,373.75 L44.69,373.22 L44.83,372.69 L44.98,372.16 L45.12,371.63 L45.25,371.09 L45.37,370.56 L45.49,370.03 L45.61,369.49 L45.72,368.95 L45.83,368.41 L45.93,367.87 L46.03,367.33 L46.13,366.79 L46.22,366.25 L46.31,365.70 L46.40,365.16 L46.49,364.62 L46.58,364.07 L46.66,363.52 L46.75,362.98 L46.83,362.43 L46.91,361.89 L47.00,361.34 L47.08,360.80 L47.16,360.25 L47.24,359.71 L47.32,359.16 L47.39,358.61 L47.46,358.06 L47.52,357.50 L47.59,356.95 L47.65,356.39 L47.71,355.83 L47.77,355.28 L47.83,354.73 L47.89,354.17 L47.96,353.62 L48.03,353.08 L48.11,352.53 L48.20,352.00 L48.29,351.46 L48.39,350.93 L48.50,350.41 L48.63,349.89 L48.79,349.31 L49.01,348.67 L49.26,348.02 L49.54,347.39 L49.83,346.83 L50.11,346.38 L50.38,346.09 L50.62,346.00 L50.85,346.10 L51.07,346.34 L51.30,346.71 L51.53,347.19 L51.75,347.75 L51.97,348.37 L52.18,349.04 L52.38,349.72 L52.57,350.39 L52.74,351.04 L52.90,351.65 L53.05,352.19 L53.19,352.72 L53.33,353.25 L53.47,353.78 L53.60,354.32 L53.72,354.86 L53.84,355.40 L53.96,355.94 L54.07,356.48 L54.17,357.03 L54.27,357.57 L54.36,358.12 L54.44,358.66 L54.51,359.21 L54.57,359.75 L54.63,360.30 L54.68,360.84 L54.73,361.39 L54.78,361.94 L54.82,362.48 L54.86,363.03 L54.91,363.58 L54.94,364.13 L54.98,364.67 L55.02,365.22 L55.05,365.77 L55.08,366.32 L55.12,366.87 L55.15,367.42 L55.18,367.97 L55.20,368.52 L55.23,369.07 L55.26,369.63 L55.28,370.18 L55.31,370.73 L55.34,371.28 L55.36,371.83 L55.39,372.38 L55.41,372.93 L55.44,373.49 L55.46,374.04 L55.49,374.59 L55.51,375.14 L55.54,375.69 L55.57,376.24 L55.60,376.80 L55.63,377.35 L55.66,377.90 L55.69,378.45 L55.72,379.00 L55.75,379.55 L55.79,380.10 L55.82,380.65 L55.86,381.20 L55.90,381.75 L55.93,382.30 L55.97,382.85 L56.01,383.40 L56.04,383.95 L56.08,384.50 L56.12,385.05 L56.16,385.60 L56.20,386.15 L56.24,386.69 L56.27,387.24 L56.31,387.79 L56.35,388.34 L56.39,388.89 L56.43,389.44 L56.47,389.99 L56.51,390.54 L56.55,391.09 L56.59,391.64 L56.64,392.19 L56.68,392.74 L56.72,393.29 L56.76,393.84 L56.81,394.39 L56.85,394.94 L56.89,395.49 L56.94,396.03 L56.98,396.58 L57.03,397.13 L57.07,397.68 L57.12,398.23 L57.16,398.78 L57.21,399.33 L57.25,399.88 L57.30,400.43 L57.35,400.97 L57.40,401.52 L57.44,402.07 L57.49,402.62 L57.54,403.17 L57.59,403.72 L57.63,404.27 L57.68,404.82 L57.73,405.37 L57.79,405.92 L57.84,406.47 L57.90,407.02 L57.95,407.56 L58.01,408.11 L58.07,408.66 L58.14,409.20 L58.20,409.75 L58.27,410.29 L58.35,410.84 L58.42,411.39 L58.50,411.93 L58.58,412.48 L58.67,413.03 L58.75,413.59 L58.85,414.14 L58.94,414.69 L59.04,415.23 L59.15,415.78 L59.25,416.33 L59.37,416.87 L59.49,417.41 L59.61,417.94 L59.74,418.48 L59.88,419.00 L60.02,419.53 L60.16,420.04 L60.32,420.56 L60.48,421.06 L60.67,421.57 L60.87,422.07 L61.09,422.56 L61.33,423.06 L61.58,423.55 L61.84,424.03 L62.12,424.52 L62.40,424.99 L62.70,425.47 L63.00,425.94 L63.32,426.41 L63.64,426.88 L63.97,427.34 L64.30,427.80 L106.90,427.80 L106.9,429.3 L19.8,429.3 Z" fill="#787878" stroke="none" stroke-width="1"/>
<path d="M19.80,427.80 L19.80,427.80 L19.93,427.23 L20.07,426.67 L20.23,426.12 L20.41,425.57 L20.60,425.03 L20.80,424.50 L21.01,423.98 L21.25,423.47 L21.53,422.97 L21.83,422.49 L22.15,422.01 L22.48,421.53 L22.80,421.04 L23.10,420.55 L23.37,420.06 L23.62,419.55 L23.87,419.03 L24.12,418.52 L24.36,418.00 L24.60,417.48 L24.84,416.95 L25.07,416.43 L25.30,415.90 L25.53,415.36 L25.74,414.83 L25.96,414.29 L26.16,413.76 L26.36,413.22 L26.56,412.68 L26.74,412.13 L26.92,411.59 L27.09,411.05 L27.26,410.50 L27.41,409.96 L27.56,409.41 L27.70,408.86 L27.84,408.31 L27.98,407.76 L28.11,407.20 L28.24,406.65 L28.36,406.09 L28.49,405.53 L28.61,404.97 L28.72,404.41 L28.83,403.84 L28.95,403.28 L29.05,402.71 L29.16,402.15 L29.27,401.58 L29.37,401.02 L29.47,400.45 L29.57,399.89 L29.67,399.32 L29.77,398.75 L29.86,398.19 L29.96,397.62 L30.06,397.06 L30.15,396.49 L30.25,395.93 L30.34,395.37 L30.43,394.80 L30.52,394.24 L30.61,393.67 L30.70,393.11 L30.79,392.54 L30.88,391.97 L30.97,391.41 L31.05,390.84 L31.13,390.27 L31.22,389.71 L31.30,389.14 L31.38,388.57 L31.46,388.01 L31.54,387.44 L31.61,386.87 L31.69,386.30 L31.76,385.73 L31.83,385.17 L31.91,384.60 L31.98,384.03 L32.04,383.46 L32.11,382.89 L32.18,382.33 L32.24,381.76 L32.30,381.19 L32.36,380.62 L32.41,380.05 L32.47,379.48 L32.52,378.91 L32.57,378.34 L32.62,377.77 L32.67,377.20 L32.72,376.63 L32.77,376.05 L32.83,375.48 L32.88,374.91 L32.93,374.34 L32.98,373.77 L33.04,373.20 L33.10,372.63 L33.16,372.07 L33.22,371.50 L33.29,370.93 L33.35,370.36 L33.43,369.79 L33.50,369.23 L33.59,368.66 L33.68,368.10 L33.77,367.53 L33.86,366.97 L33.96,366.40 L34.06,365.84 L34.17,365.28 L34.27,364.71 L34.37,364.15 L34.48,363.59 L34.58,363.02 L34.69,362.46 L34.79,361.89 L34.88,361.33 L34.98,360.77 L35.07,360.20 L35.15,359.63 L35.23,359.07 L35.31,358.50 L35.38,357.92 L35.45,357.35 L35.51,356.78 L35.58,356.20 L35.64,355.63 L35.71,355.06 L35.78,354.48 L35.85,353.91 L35.92,353.35 L36.00,352.78 L36.08,352.22 L36.18,351.65 L36.27,351.10 L36.38,350.54 L36.50,350.00 L36.66,349.39 L36.88,348.71 L37.14,348.00 L37.41,347.33 L37.66,346.74 L37.89,346.29 L38.05,346.04 L38.14,346.01 L38.21,346.10 L38.27,346.27 L38.33,346.52 L38.39,346.85 L38.44,347.24 L38.49,347.70 L38.53,348.21 L38.57,348.77 L38.61,349.38 L38.64,350.03 L38.67,350.70 L38.70,351.41 L38.73,352.14 L38.76,352.89 L38.79,353.64 L38.82,354.40 L38.85,355.16 L38.88,355.92 L38.91,356.66 L38.94,357.38 L38.98,358.08 L39.01,358.75 L39.05,359.39 L39.10,359.98 L39.14,360.55 L39.19,361.12 L39.24,361.69 L39.29,362.26 L39.33,362.83 L39.38,363.40 L39.43,363.97 L39.48,364.54 L39.53,365.11 L39.58,365.69 L39.63,366.26 L39.68,366.83 L39.73,367.40 L39.78,367.97 L39.84,368.54 L39.89,369.11 L39.95,369.68 L40.00,370.25 L40.06,370.82 L40.12,371.39 L40.17,371.96 L40.23,372.52 L40.29,373.09 L40.35,373.66 L40.41,374.23 L40.48,374.80 L40.54,375.37 L40.61,375.94 L40.68,376.51 L40.75,377.07 L40.82,377.64 L40.90,378.21 L40.97,378.78 L41.05,379.34 L41.13,379.91 L41.21,380.48 L41.29,381.04 L41.37,381.61 L41.46,382.18 L41.54,382.74 L41.62,383.31 L41.70,383.88 L41.78,384.44 L41.86,385.01 L41.94,385.58 L42.02,386.15 L42.10,386.71 L42.17,387.28 L42.25,387.85 L42.32,388.42 L42.40,388.98 L42.47,389.55 L42.55,390.12 L42.62,390.69 L42.69,391.26 L42.77,391.82 L42.85,392.39 L42.92,392.96 L43.00,393.53 L43.08,394.09 L43.17,394.66 L43.25,395.22 L43.34,395.79 L43.43,396.35 L43.52,396.92 L43.61,397.48 L43.71,398.05 L43.80,398.61 L43.90,399.18 L44.00,399.75 L44.10,400.31 L44.20,400.88 L44.30,401.45 L44.40,402.01 L44.51,402.58 L44.62,403.14 L44.73,403.70 L44.84,404.27 L44.96,404.83 L45.08,405.39 L45.20,405.95 L45.33,406.51 L45.45,407.07 L45.59,407.62 L45.72,408.17 L45.86,408.73 L46.00,409.28 L46.15,409.82 L46.30,410.37 L46.46,410.92 L46.63,411.46 L46.80,412.01 L46.98,412.56 L47.17,413.11 L47.36,413.65 L47.57,414.20 L47.77,414.74 L47.99,415.28 L48.20,415.82 L48.43,416.35 L48.66,416.88 L48.90,417.40 L49.14,417.92 L49.39,418.43 L49.64,418.94 L49.90,419.44 L50.16,419.93 L50.43,420.43 L50.71,420.94 L51.00,421.46 L51.30,421.98 L51.61,422.51 L51.93,423.03 L52.26,423.55 L52.61,424.05 L52.96,424.54 L53.33,425.00 L53.71,425.44 L54.10,425.85 L54.50,426.22 L54.92,426.56 L55.34,426.85 L55.79,427.10 L56.29,427.31 L56.84,427.50 L57.41,427.67 L58.00,427.80 L106.90,427.80" fill="none" stroke="#111" stroke-width="1.2" stroke-linejoin="round" fill="none" stroke-dasharray="1.6 0.5"/>
<path d="M19.80,427.80 L19.80,422.30 L20.22,421.92 L20.63,421.54 L21.05,421.16 L21.47,420.78 L21.89,420.40 L22.31,420.02 L22.73,419.65 L23.16,419.28 L23.59,418.91 L24.02,418.54 L24.45,418.18 L24.89,417.81 L25.32,417.44 L25.75,417.07 L26.17,416.70 L26.59,416.33 L27.01,415.95 L27.42,415.57 L27.83,415.18 L28.23,414.78 L28.62,414.38 L29.00,413.98 L29.39,413.57 L29.77,413.15 L30.15,412.73 L30.52,412.30 L30.90,411.87 L31.26,411.43 L31.63,411.00 L31.98,410.55 L32.33,410.10 L32.68,409.65 L33.01,409.20 L33.34,408.74 L33.65,408.28 L33.96,407.81 L34.26,407.35 L34.56,406.87 L34.85,406.40 L35.14,405.91 L35.43,405.43 L35.72,404.94 L36.00,404.44 L36.28,403.94 L36.55,403.44 L36.82,402.94 L37.08,402.43 L37.34,401.92 L37.59,401.41 L37.84,400.90 L38.08,400.38 L38.31,399.86 L38.53,399.34 L38.75,398.82 L38.96,398.30 L39.15,397.77 L39.34,397.25 L39.53,396.73 L39.70,396.20 L39.86,395.67 L40.02,395.13 L40.18,394.60 L40.33,394.06 L40.47,393.51 L40.61,392.97 L40.75,392.42 L40.88,391.87 L41.01,391.32 L41.14,390.77 L41.26,390.22 L41.39,389.66 L41.51,389.11 L41.63,388.55 L41.75,388.00 L41.87,387.44 L41.99,386.89 L42.11,386.33 L42.24,385.78 L42.36,385.22 L42.49,384.67 L42.62,384.12 L42.76,383.57 L42.89,383.02 L43.04,382.48 L43.18,381.93 L43.33,381.39 L43.48,380.84 L43.63,380.30 L43.79,379.75 L43.94,379.21 L44.10,378.66 L44.25,378.12 L44.41,377.57 L44.56,377.03 L44.71,376.48 L44.86,375.94 L45.01,375.39 L45.15,374.85 L45.29,374.30 L45.43,373.75 L45.56,373.20 L45.69,372.65 L45.81,372.10 L45.92,371.55 L46.03,371.00 L46.12,370.45 L46.22,369.90 L46.30,369.34 L46.38,368.79 L46.46,368.23 L46.53,367.67 L46.60,367.11 L46.67,366.55 L46.73,365.99 L46.79,365.43 L46.85,364.87 L46.91,364.30 L46.97,363.74 L47.03,363.18 L47.09,362.62 L47.15,362.05 L47.22,361.49 L47.28,360.93 L47.35,360.37 L47.42,359.81 L47.49,359.25 L47.56,358.69 L47.62,358.12 L47.69,357.55 L47.75,356.99 L47.81,356.42 L47.88,355.85 L47.94,355.29 L48.01,354.72 L48.08,354.16 L48.15,353.60 L48.23,353.04 L48.32,352.48 L48.41,351.93 L48.51,351.38 L48.62,350.84 L48.73,350.30 L48.86,349.75 L49.03,349.13 L49.23,348.45 L49.47,347.77 L49.72,347.14 L49.99,346.60 L50.25,346.21 L50.52,346.01 L50.78,346.05 L51.06,346.30 L51.37,346.71 L51.68,347.25 L51.98,347.87 L52.27,348.52 L52.52,349.17 L52.73,349.77 L52.89,350.30 L53.04,350.83 L53.18,351.36 L53.31,351.90 L53.44,352.45 L53.56,353.00 L53.68,353.55 L53.79,354.11 L53.89,354.67 L53.99,355.23 L54.08,355.80 L54.16,356.37 L54.25,356.93 L54.32,357.50 L54.39,358.07 L54.46,358.63 L54.52,359.20 L54.58,359.76 L54.63,360.32 L54.68,360.88 L54.73,361.44 L54.77,362.00 L54.82,362.56 L54.86,363.12 L54.90,363.68 L54.94,364.24 L54.98,364.81 L55.01,365.37 L55.05,365.93 L55.08,366.49 L55.11,367.06 L55.14,367.62 L55.17,368.19 L55.20,368.75 L55.23,369.31 L55.26,369.88 L55.29,370.44 L55.31,371.01 L55.34,371.57 L55.37,372.14 L55.39,372.70 L55.42,373.27 L55.45,373.83 L55.47,374.40 L55.50,374.96 L55.53,375.52 L55.56,376.09 L55.59,376.65 L55.62,377.22 L55.65,377.78 L55.68,378.35 L55.71,378.91 L55.75,379.47 L55.78,380.04 L55.82,380.60 L55.86,381.16 L55.89,381.73 L55.93,382.29 L55.97,382.85 L56.01,383.41 L56.05,383.98 L56.09,384.54 L56.12,385.10 L56.16,385.67 L56.20,386.23 L56.24,386.79 L56.28,387.36 L56.32,387.92 L56.36,388.48 L56.40,389.04 L56.44,389.61 L56.49,390.17 L56.53,390.73 L56.57,391.30 L56.61,391.86 L56.65,392.42 L56.70,392.98 L56.74,393.55 L56.78,394.11 L56.83,394.67 L56.87,395.23 L56.92,395.80 L56.96,396.36 L57.01,396.92 L57.05,397.48 L57.10,398.05 L57.15,398.61 L57.19,399.17 L57.24,399.73 L57.29,400.29 L57.34,400.86 L57.39,401.42 L57.44,401.98 L57.48,402.54 L57.53,403.11 L57.58,403.67 L57.63,404.23 L57.68,404.80 L57.73,405.36 L57.79,405.92 L57.84,406.48 L57.90,407.04 L57.96,407.61 L58.02,408.17 L58.08,408.73 L58.15,409.29 L58.22,409.84 L58.29,410.40 L58.36,410.96 L58.44,411.52 L58.52,412.08 L58.60,412.65 L58.69,413.21 L58.78,413.77 L58.88,414.34 L58.98,414.90 L59.08,415.46 L59.19,416.02 L59.31,416.58 L59.43,417.13 L59.55,417.68 L59.68,418.23 L59.82,418.77 L59.96,419.31 L60.11,419.84 L60.26,420.37 L60.43,420.89 L60.61,421.41 L60.81,421.92 L61.03,422.43 L61.27,422.94 L61.52,423.44 L61.79,423.94 L62.07,424.43 L62.36,424.92 L62.66,425.41 L62.97,425.90 L63.29,426.38 L63.62,426.86 L63.96,427.33 L64.30,427.80 L106.90,427.80" fill="none" stroke="#000" stroke-width="2.4" stroke-linejoin="round" fill="none"/>
<line x1="16.700000000000003" y1="428.8" x2="19.900000000000002" y2="428.8" stroke="#111" stroke-width="1.0"/>
<line x1="18.3" y1="424.62" x2="19.900000000000002" y2="424.62" stroke="#111" stroke-width="1.0"/>
<line x1="18.3" y1="420.44" x2="19.900000000000002" y2="420.44" stroke="#111" stroke-width="1.0"/>
<line x1="18.3" y1="416.26" x2="19.900000000000002" y2="416.26" stroke="#111" stroke-width="1.0"/>
<line x1="16.700000000000003" y1="412.08" x2="19.900000000000002" y2="412.08" stroke="#111" stroke-width="1.0"/>
<line x1="18.3" y1="407.9" x2="19.900000000000002" y2="407.9" stroke="#111" stroke-width="1.0"/>
<line x1="18.3" y1="403.72" x2="19.900000000000002" y2="403.72" stroke="#111" stroke-width="1.0"/>
<line x1="18.3" y1="399.54" x2="19.900000000000002" y2="399.54" stroke="#111" stroke-width="1.0"/>
<line x1="16.700000000000003" y1="395.36" x2="19.900000000000002" y2="395.36" stroke="#111" stroke-width="1.0"/>
<line x1="18.3" y1="391.18" x2="19.900000000000002" y2="391.18" stroke="#111" stroke-width="1.0"/>
<line x1="18.3" y1="387.0" x2="19.900000000000002" y2="387.0" stroke="#111" stroke-width="1.0"/>
<line x1="18.3" y1="382.82" x2="19.900000000000002" y2="382.82" stroke="#111" stroke-width="1.0"/>
<line x1="16.700000000000003" y1="378.64" x2="19.900000000000002" y2="378.64" stroke="#111" stroke-width="1.0"/>
<line x1="18.3" y1="374.46" x2="19.900000000000002" y2="374.46" stroke="#111" stroke-width="1.0"/>
<line x1="18.3" y1="370.28" x2="19.900000000000002" y2="370.28" stroke="#111" stroke-width="1.0"/>
<line x1="18.3" y1="366.09999999999997" x2="19.900000000000002" y2="366.09999999999997" stroke="#111" stroke-width="1.0"/>
<line x1="16.700000000000003" y1="361.91999999999996" x2="19.900000000000002" y2="361.91999999999996" stroke="#111" stroke-width="1.0"/>
<line x1="18.3" y1="357.74" x2="19.900000000000002" y2="357.74" stroke="#111" stroke-width="1.0"/>
<line x1="18.3" y1="353.56" x2="19.900000000000002" y2="353.56" stroke="#111" stroke-width="1.0"/>
<line x1="18.3" y1="349.38" x2="19.900000000000002" y2="349.38" stroke="#111" stroke-width="1.0"/>
<line x1="16.700000000000003" y1="345.2" x2="19.900000000000002" y2="345.2" stroke="#111" stroke-width="1.0"/>
<line x1="21.0" y1="428.8" x2="21.0" y2="431.8" stroke="#111" stroke-width="0.9"/>
<line x1="27.5" y1="428.8" x2="27.5" y2="431.0" stroke="#111" stroke-width="0.9"/>
<line x1="31.0" y1="428.8" x2="31.0" y2="431.0" stroke="#111" stroke-width="0.9"/>
<line x1="34.0" y1="428.8" x2="34.0" y2="431.0" stroke="#111" stroke-width="0.9"/>
<line x1="36.0" y1="428.8" x2="36.0" y2="431.0" stroke="#111" stroke-width="0.9"/>
<line x1="37.5" y1="428.8" x2="37.5" y2="431.0" stroke="#111" stroke-width="0.9"/>
<line x1="39.0" y1="428.8" x2="39.0" y2="431.0" stroke="#111" stroke-width="0.9"/>
<line x1="40.5" y1="428.8" x2="40.5" y2="431.0" stroke="#111" stroke-width="0.9"/>
<line x1="41.5" y1="428.8" x2="41.5" y2="431.0" stroke="#111" stroke-width="0.9"/>
<line x1="42.5" y1="428.8" x2="42.5" y2="431.8" stroke="#111" stroke-width="0.9"/>
<line x1="49.0" y1="428.8" x2="49.0" y2="431.0" stroke="#111" stroke-width="0.9"/>
<line x1="52.5" y1="428.8" x2="52.5" y2="431.0" stroke="#111" stroke-width="0.9"/>
<line x1="55.5" y1="428.8" x2="55.5" y2="431.0" stroke="#111" stroke-width="0.9"/>
<line x1="57.5" y1="428.8" x2="57.5" y2="431.0" stroke="#111" stroke-width="0.9"/>
<line x1="59.0" y1="428.8" x2="59.0" y2="431.0" stroke="#111" stroke-width="0.9"/>
<line x1="60.5" y1="428.8" x2="60.5" y2="431.0" stroke="#111" stroke-width="0.9"/>
<line x1="62.0" y1="428.8" x2="62.0" y2="431.0" stroke="#111" stroke-width="0.9"/>
<line x1="63.0" y1="428.8" x2="63.0" y2="431.0" stroke="#111" stroke-width="0.9"/>
<line x1="64.0" y1="428.8" x2="64.0" y2="431.8" stroke="#111" stroke-width="0.9"/>
<line x1="70.5" y1="428.8" x2="70.5" y2="431.0" stroke="#111" stroke-width="0.9"/>
<line x1="74.0" y1="428.8" x2="74.0" y2="431.0" stroke="#111" stroke-width="0.9"/>
<line x1="77.0" y1="428.8" x2="77.0" y2="431.0" stroke="#111" stroke-width="0.9"/>
<line x1="79.0" y1="428.8" x2="79.0" y2="431.0" stroke="#111" stroke-width="0.9"/>
<line x1="80.5" y1="428.8" x2="80.5" y2="431.0" stroke="#111" stroke-width="0.9"/>
<line x1="82.0" y1="428.8" x2="82.0" y2="431.0" stroke="#111" stroke-width="0.9"/>
<line x1="83.5" y1="428.8" x2="83.5" y2="431.0" stroke="#111" stroke-width="0.9"/>
<line x1="84.5" y1="428.8" x2="84.5" y2="431.0" stroke="#111" stroke-width="0.9"/>
<line x1="85.5" y1="428.8" x2="85.5" y2="431.8" stroke="#111" stroke-width="0.9"/>
<line x1="92.0" y1="428.8" x2="92.0" y2="431.0" stroke="#111" stroke-width="0.9"/>
<line x1="95.5" y1="428.8" x2="95.5" y2="431.0" stroke="#111" stroke-width="0.9"/>
<line x1="98.5" y1="428.8" x2="98.5" y2="431.0" stroke="#111" stroke-width="0.9"/>
<line x1="100.5" y1="428.8" x2="100.5" y2="431.0" stroke="#111" stroke-width="0.9"/>
<line x1="102.0" y1="428.8" x2="102.0" y2="431.0" stroke="#111" stroke-width="0.9"/>
<line x1="103.5" y1="428.8" x2="103.5" y2="431.0" stroke="#111" stroke-width="0.9"/>
<line x1="105.0" y1="428.8" x2="105.0" y2="431.0" stroke="#111" stroke-width="0.9"/>
<line x1="106.0" y1="428.8" x2="106.0" y2="431.0" stroke="#111" stroke-width="0.9"/>
<line x1="107.0" y1="428.8" x2="107.0" y2="431.8" stroke="#111" stroke-width="0.9"/>
<rect x="19.90" y="341.30" width="87.40" height="87.10" fill="none" stroke="#000" stroke-width="1.2"/>
<line x1="19.3" y1="428" x2="107.9" y2="428" stroke="#000" stroke-width="1.6"/>
<line x1="20.3" y1="344.5" x2="20.3" y2="428.5" stroke="#000" stroke-width="1.2"/>
<path d="M116.20,427.80 L116.80,427.80 L117.40,427.78 L117.99,427.72 L118.57,427.63 L119.14,427.51 L119.69,427.38 L120.23,427.23 L120.75,427.08 L121.27,426.91 L121.79,426.69 L122.33,426.42 L122.87,426.11 L123.40,425.76 L123.89,425.38 L124.35,424.99 L124.76,424.58 L125.11,424.16 L125.38,423.75 L125.59,423.33 L125.79,422.88 L125.99,422.42 L126.17,421.94 L126.34,421.44 L126.50,420.92 L126.66,420.39 L126.81,419.84 L126.95,419.28 L127.08,418.71 L127.20,418.13 L127.32,417.54 L127.44,416.95 L127.55,416.35 L127.65,415.75 L127.76,415.14 L127.85,414.54 L127.95,413.93 L128.04,413.33 L128.13,412.73 L128.22,412.14 L128.31,411.55 L128.40,410.97 L128.48,410.40 L128.57,409.84 L128.66,409.28 L128.74,408.71 L128.82,408.15 L128.89,407.58 L128.97,407.02 L129.04,406.45 L129.11,405.88 L129.18,405.32 L129.25,404.75 L129.31,404.18 L129.38,403.61 L129.44,403.04 L129.50,402.48 L129.56,401.91 L129.62,401.34 L129.68,400.77 L129.74,400.20 L129.80,399.63 L129.86,399.06 L129.92,398.49 L129.98,397.92 L130.04,397.35 L130.10,396.79 L130.16,396.22 L130.22,395.65 L130.28,395.08 L130.34,394.51 L130.39,393.95 L130.45,393.38 L130.50,392.81 L130.56,392.24 L130.61,391.67 L130.67,391.10 L130.72,390.53 L130.77,389.96 L130.83,389.39 L130.88,388.83 L130.93,388.26 L130.99,387.69 L131.04,387.12 L131.09,386.55 L131.15,385.98 L131.20,385.41 L131.26,384.84 L131.31,384.28 L131.37,383.71 L131.43,383.14 L131.49,382.57 L131.55,382.00 L131.61,381.43 L131.68,380.87 L131.74,380.30 L131.81,379.73 L131.87,379.16 L131.94,378.59 L132.01,378.03 L132.08,377.46 L132.14,376.89 L132.21,376.32 L132.27,375.75 L132.34,375.19 L132.40,374.62 L132.46,374.05 L132.52,373.48 L132.57,372.91 L132.62,372.35 L132.67,371.78 L132.72,371.21 L132.76,370.64 L132.80,370.07 L132.83,369.50 L132.86,368.93 L132.89,368.36 L132.92,367.79 L132.94,367.22 L132.96,366.64 L132.99,366.07 L133.01,365.50 L133.02,364.93 L133.04,364.36 L133.06,363.78 L133.08,363.21 L133.09,362.64 L133.11,362.06 L133.13,361.49 L133.14,360.92 L133.16,360.35 L133.18,359.78 L133.20,359.20 L133.22,358.63 L133.24,358.06 L133.27,357.49 L133.29,356.92 L133.32,356.35 L133.35,355.78 L133.38,355.22 L133.42,354.65 L133.46,354.08 L133.50,353.51 L133.55,352.93 L133.60,352.32 L133.66,351.70 L133.74,351.07 L133.83,350.45 L133.93,349.86 L134.05,349.29 L134.19,348.78 L134.35,348.32 L134.54,347.93 L134.99,347.54 L135.60,347.20 L136.11,347.01 L136.40,347.05 L136.64,347.25 L136.86,347.60 L137.07,348.07 L137.25,348.64 L137.42,349.28 L137.57,349.97 L137.71,350.69 L137.84,351.42 L137.96,352.13 L138.07,352.80 L138.18,353.41 L138.29,353.96 L138.38,354.52 L138.47,355.08 L138.56,355.65 L138.64,356.21 L138.71,356.77 L138.78,357.34 L138.85,357.91 L138.91,358.48 L138.98,359.05 L139.04,359.62 L139.10,360.19 L139.16,360.76 L139.23,361.33 L139.29,361.90 L139.36,362.47 L139.43,363.04 L139.50,363.61 L139.58,364.17 L139.66,364.74 L139.75,365.30 L139.84,365.86 L139.94,366.43 L140.05,366.99 L140.16,367.55 L140.27,368.11 L140.38,368.67 L140.49,369.23 L140.60,369.79 L140.71,370.35 L140.81,370.92 L140.91,371.48 L141.01,372.04 L141.10,372.61 L141.18,373.17 L141.27,373.73 L141.35,374.30 L141.43,374.87 L141.51,375.43 L141.59,376.00 L141.66,376.56 L141.74,377.13 L141.81,377.70 L141.89,378.26 L141.96,378.83 L142.04,379.40 L142.12,379.96 L142.19,380.53 L142.27,381.10 L142.35,381.66 L142.43,382.23 L142.51,382.79 L142.59,383.36 L142.68,383.92 L142.77,384.49 L142.86,385.05 L142.95,385.61 L143.05,386.18 L143.15,386.74 L143.25,387.31 L143.34,387.87 L143.44,388.43 L143.54,388.99 L143.64,389.56 L143.74,390.12 L143.84,390.68 L143.94,391.25 L144.04,391.81 L144.13,392.37 L144.23,392.94 L144.32,393.50 L144.41,394.06 L144.50,394.63 L144.58,395.19 L144.66,395.76 L144.74,396.32 L144.81,396.89 L144.88,397.46 L144.95,398.02 L145.01,398.59 L145.08,399.16 L145.14,399.73 L145.19,400.29 L145.25,400.86 L145.31,401.43 L145.36,402.00 L145.42,402.57 L145.47,403.14 L145.52,403.71 L145.58,404.28 L145.63,404.85 L145.68,405.42 L145.74,405.98 L145.79,406.55 L145.85,407.12 L145.91,407.69 L145.97,408.26 L146.03,408.83 L146.09,409.39 L146.16,409.96 L146.23,410.53 L146.29,411.10 L146.36,411.67 L146.42,412.25 L146.49,412.83 L146.55,413.41 L146.61,414.00 L146.67,414.58 L146.74,415.17 L146.80,415.75 L146.87,416.33 L146.94,416.91 L147.01,417.49 L147.09,418.07 L147.17,418.64 L147.25,419.21 L147.34,419.77 L147.44,420.33 L147.54,420.89 L147.65,421.43 L147.76,421.97 L147.88,422.50 L148.02,423.03 L148.15,423.54 L148.32,424.05 L148.54,424.54 L148.81,425.03 L149.12,425.51 L149.46,425.98 L149.83,426.44 L150.22,426.90 L150.61,427.35 L151.00,427.80 L203.80,427.80 L203.8,429.3 L116.2,429.3 Z" fill="#787878" stroke="none" stroke-width="1"/>
<path d="M116.20,427.80 L116.80,427.80 L117.25,427.45 L117.70,427.10 L118.14,426.74 L118.57,426.37 L119.00,426.00 L119.45,425.62 L119.91,425.25 L120.37,424.87 L120.80,424.48 L121.16,424.06 L121.44,423.62 L121.67,423.15 L121.88,422.66 L122.06,422.14 L122.23,421.60 L122.39,421.05 L122.53,420.48 L122.67,419.91 L122.81,419.33 L122.94,418.75 L123.08,418.18 L123.23,417.61 L123.38,417.06 L123.55,416.51 L123.72,415.97 L123.90,415.43 L124.07,414.88 L124.25,414.34 L124.43,413.80 L124.60,413.25 L124.77,412.71 L124.93,412.16 L125.09,411.62 L125.23,411.07 L125.35,410.52 L125.47,409.96 L125.58,409.41 L125.68,408.85 L125.78,408.29 L125.88,407.73 L125.97,407.17 L126.06,406.61 L126.14,406.05 L126.23,405.49 L126.31,404.92 L126.39,404.36 L126.46,403.79 L126.54,403.23 L126.61,402.66 L126.69,402.09 L126.76,401.53 L126.83,400.96 L126.91,400.39 L126.98,399.83 L127.06,399.26 L127.13,398.70 L127.21,398.13 L127.29,397.57 L127.37,397.00 L127.45,396.44 L127.54,395.88 L127.63,395.31 L127.71,394.75 L127.80,394.19 L127.89,393.62 L127.98,393.06 L128.07,392.50 L128.15,391.94 L128.24,391.37 L128.33,390.81 L128.42,390.25 L128.51,389.69 L128.59,389.12 L128.68,388.56 L128.77,388.00 L128.85,387.43 L128.93,386.87 L129.01,386.31 L129.09,385.74 L129.17,385.18 L129.25,384.61 L129.32,384.05 L129.39,383.49 L129.46,382.92 L129.53,382.36 L129.59,381.79 L129.66,381.23 L129.73,380.66 L129.79,380.09 L129.86,379.53 L129.92,378.96 L129.98,378.40 L130.05,377.83 L130.11,377.26 L130.17,376.70 L130.23,376.13 L130.28,375.56 L130.34,375.00 L130.40,374.43 L130.45,373.86 L130.51,373.30 L130.56,372.73 L130.61,372.16 L130.66,371.60 L130.71,371.03 L130.76,370.46 L130.81,369.89 L130.85,369.33 L130.90,368.76 L130.94,368.19 L130.97,367.62 L131.01,367.05 L131.05,366.49 L131.08,365.92 L131.11,365.35 L131.15,364.78 L131.18,364.21 L131.22,363.64 L131.26,363.07 L131.30,362.51 L131.34,361.94 L131.38,361.37 L131.43,360.80 L131.48,360.24 L131.53,359.67 L131.60,359.11 L131.68,358.54 L131.76,357.98 L131.85,357.42 L131.95,356.85 L132.04,356.29 L132.13,355.73 L132.21,355.16 L132.29,354.60 L132.35,354.03 L132.40,353.47 L132.44,352.86 L132.47,352.18 L132.50,351.45 L132.52,350.70 L132.53,349.94 L132.55,349.20 L132.57,348.50 L132.59,347.85 L132.62,347.28 L132.65,346.81 L132.69,346.46 L132.75,346.25 L132.83,346.21 L133.31,346.36 L134.00,346.65 L134.48,346.97 L134.66,347.32 L134.81,347.72 L134.95,348.18 L135.07,348.69 L135.18,349.24 L135.27,349.82 L135.36,350.43 L135.43,351.06 L135.50,351.70 L135.56,352.34 L135.62,352.98 L135.67,353.61 L135.73,354.23 L135.78,354.82 L135.84,355.39 L135.89,355.95 L135.94,356.52 L135.99,357.08 L136.03,357.65 L136.08,358.22 L136.12,358.78 L136.16,359.35 L136.19,359.92 L136.23,360.49 L136.27,361.06 L136.30,361.63 L136.33,362.20 L136.37,362.76 L136.40,363.33 L136.43,363.90 L136.46,364.47 L136.49,365.04 L136.53,365.61 L136.56,366.18 L136.59,366.75 L136.62,367.32 L136.66,367.89 L136.70,368.46 L136.73,369.02 L136.77,369.59 L136.81,370.16 L136.85,370.73 L136.89,371.30 L136.94,371.86 L136.98,372.43 L137.02,373.00 L137.07,373.57 L137.11,374.13 L137.15,374.70 L137.20,375.27 L137.24,375.84 L137.29,376.40 L137.33,376.97 L137.38,377.54 L137.42,378.11 L137.47,378.68 L137.51,379.24 L137.56,379.81 L137.60,380.38 L137.64,380.95 L137.69,381.51 L137.73,382.08 L137.77,382.65 L137.82,383.22 L137.86,383.79 L137.90,384.35 L137.94,384.92 L137.98,385.49 L138.02,386.06 L138.05,386.63 L138.09,387.19 L138.13,387.76 L138.17,388.33 L138.21,388.90 L138.24,389.47 L138.28,390.04 L138.32,390.60 L138.36,391.17 L138.40,391.74 L138.44,392.31 L138.48,392.88 L138.52,393.44 L138.56,394.01 L138.60,394.58 L138.65,395.15 L138.69,395.71 L138.74,396.28 L138.79,396.85 L138.84,397.42 L138.89,397.98 L138.94,398.55 L138.99,399.12 L139.04,399.68 L139.09,400.25 L139.15,400.82 L139.20,401.39 L139.26,401.95 L139.32,402.52 L139.38,403.09 L139.43,403.65 L139.50,404.22 L139.56,404.79 L139.62,405.35 L139.69,405.92 L139.75,406.48 L139.82,407.05 L139.89,407.61 L139.96,408.18 L140.03,408.74 L140.11,409.31 L140.18,409.87 L140.26,410.43 L140.34,411.00 L140.41,411.57 L140.49,412.14 L140.57,412.71 L140.66,413.28 L140.74,413.85 L140.83,414.42 L140.92,414.98 L141.02,415.55 L141.12,416.11 L141.23,416.67 L141.34,417.23 L141.46,417.79 L141.58,418.34 L141.71,418.88 L141.84,419.43 L141.99,419.96 L142.15,420.50 L142.32,421.05 L142.52,421.61 L142.74,422.17 L142.97,422.72 L143.22,423.27 L143.49,423.80 L143.77,424.31 L144.07,424.80 L144.38,425.25 L144.71,425.67 L145.05,426.05 L145.44,426.40 L145.88,426.73 L146.37,427.03 L146.89,427.31 L147.44,427.57 L148.00,427.80 L203.80,427.80" fill="none" stroke="#111" stroke-width="1.2" stroke-linejoin="round" fill="none" stroke-dasharray="1.6 0.5"/>
<path d="M116.20,427.80 L116.80,427.80 L117.41,427.78 L118.01,427.76 L118.62,427.73 L119.22,427.70 L119.83,427.66 L120.43,427.62 L121.04,427.58 L121.64,427.53 L122.24,427.48 L122.85,427.43 L123.47,427.37 L124.08,427.30 L124.69,427.22 L125.28,427.13 L125.86,427.03 L126.42,426.90 L126.99,426.71 L127.57,426.47 L128.14,426.19 L128.70,425.88 L129.24,425.53 L129.76,425.16 L130.26,424.77 L130.72,424.38 L131.13,423.98 L131.51,423.58 L131.85,423.15 L132.19,422.69 L132.50,422.19 L132.80,421.66 L133.09,421.11 L133.36,420.55 L133.62,419.97 L133.87,419.38 L134.11,418.79 L134.34,418.21 L134.56,417.63 L134.78,417.06 L134.99,416.50 L135.19,415.93 L135.39,415.36 L135.59,414.78 L135.77,414.20 L135.95,413.62 L136.12,413.03 L136.29,412.45 L136.44,411.86 L136.59,411.27 L136.72,410.68 L136.84,410.09 L136.96,409.50 L137.08,408.91 L137.19,408.32 L137.29,407.72 L137.40,407.13 L137.50,406.53 L137.59,405.93 L137.69,405.33 L137.78,404.73 L137.87,404.13 L137.95,403.53 L138.04,402.93 L138.12,402.33 L138.20,401.72 L138.28,401.12 L138.35,400.52 L138.43,399.92 L138.50,399.31 L138.57,398.71 L138.65,398.11 L138.72,397.51 L138.79,396.91 L138.86,396.30 L138.92,395.70 L138.99,395.10 L139.05,394.50 L139.11,393.90 L139.17,393.29 L139.23,392.69 L139.28,392.09 L139.34,391.48 L139.39,390.88 L139.44,390.28 L139.50,389.67 L139.55,389.07 L139.60,388.46 L139.66,387.86 L139.71,387.26 L139.77,386.65 L139.83,386.05 L139.88,385.45 L139.95,384.84 L140.01,384.24 L140.07,383.64 L140.14,383.04 L140.21,382.44 L140.29,381.84 L140.37,381.24 L140.45,380.64 L140.53,380.04 L140.62,379.44 L140.70,378.84 L140.79,378.24 L140.87,377.64 L140.96,377.04 L141.04,376.44 L141.13,375.84 L141.21,375.23 L141.29,374.63 L141.37,374.03 L141.44,373.43 L141.51,372.83 L141.58,372.23 L141.64,371.63 L141.70,371.02 L141.75,370.42 L141.80,369.82 L141.85,369.21 L141.90,368.61 L141.95,368.01 L142.00,367.40 L142.05,366.80 L142.10,366.19 L142.15,365.59 L142.20,364.99 L142.25,364.38 L142.30,363.78 L142.35,363.18 L142.40,362.57 L142.45,361.97 L142.49,361.36 L142.54,360.76 L142.59,360.15 L142.64,359.55 L142.68,358.95 L142.73,358.34 L142.79,357.74 L142.84,357.13 L142.89,356.53 L142.95,355.93 L143.01,355.33 L143.07,354.72 L143.13,354.12 L143.20,353.52 L143.26,352.91 L143.33,352.28 L143.39,351.63 L143.45,350.99 L143.52,350.34 L143.60,349.71 L143.69,349.09 L143.79,348.50 L143.91,347.94 L144.05,347.42 L144.22,346.95 L144.57,346.45 L145.10,345.98 L145.65,345.72 L146.16,345.79 L146.72,346.16 L147.20,346.66 L147.46,347.14 L147.62,347.63 L147.76,348.16 L147.88,348.73 L147.98,349.33 L148.07,349.96 L148.15,350.60 L148.22,351.24 L148.29,351.89 L148.37,352.53 L148.45,353.15 L148.54,353.75 L148.63,354.35 L148.72,354.95 L148.80,355.55 L148.89,356.15 L148.97,356.75 L149.05,357.35 L149.13,357.95 L149.21,358.55 L149.29,359.15 L149.37,359.75 L149.45,360.35 L149.53,360.95 L149.62,361.55 L149.70,362.15 L149.78,362.75 L149.86,363.35 L149.95,363.95 L150.03,364.55 L150.12,365.15 L150.21,365.75 L150.30,366.35 L150.39,366.95 L150.49,367.55 L150.58,368.15 L150.67,368.74 L150.77,369.34 L150.86,369.94 L150.96,370.54 L151.06,371.14 L151.16,371.73 L151.26,372.33 L151.36,372.93 L151.46,373.53 L151.57,374.12 L151.68,374.72 L151.80,375.31 L151.91,375.91 L152.03,376.50 L152.14,377.10 L152.26,377.70 L152.37,378.29 L152.48,378.89 L152.59,379.48 L152.69,380.08 L152.80,380.68 L152.89,381.27 L152.99,381.87 L153.07,382.47 L153.16,383.07 L153.23,383.67 L153.31,384.27 L153.38,384.87 L153.44,385.47 L153.51,386.07 L153.57,386.68 L153.63,387.28 L153.69,387.88 L153.75,388.48 L153.80,389.09 L153.86,389.69 L153.91,390.29 L153.96,390.90 L154.02,391.50 L154.07,392.11 L154.12,392.71 L154.18,393.31 L154.23,393.92 L154.28,394.52 L154.34,395.13 L154.40,395.73 L154.45,396.33 L154.51,396.93 L154.57,397.54 L154.63,398.14 L154.69,398.74 L154.75,399.35 L154.80,399.95 L154.86,400.55 L154.92,401.16 L154.98,401.76 L155.03,402.37 L155.09,402.97 L155.15,403.57 L155.21,404.18 L155.27,404.78 L155.33,405.38 L155.39,405.98 L155.46,406.59 L155.52,407.19 L155.59,407.79 L155.66,408.39 L155.73,408.99 L155.81,409.59 L155.89,410.19 L155.96,410.79 L156.04,411.40 L156.12,412.00 L156.20,412.61 L156.27,413.22 L156.35,413.83 L156.43,414.45 L156.52,415.06 L156.60,415.67 L156.69,416.28 L156.78,416.89 L156.88,417.50 L156.98,418.11 L157.09,418.71 L157.20,419.31 L157.32,419.90 L157.44,420.49 L157.58,421.07 L157.72,421.65 L157.86,422.22 L158.02,422.78 L158.19,423.34 L158.37,423.89 L158.60,424.45 L158.89,425.00 L159.22,425.54 L159.59,426.04 L159.98,426.48 L160.40,426.86 L160.89,427.21 L161.42,427.53 L162.00,427.80 L203.80,427.80" fill="none" stroke="#000" stroke-width="2.4" stroke-linejoin="round" fill="none"/>
<line x1="113.1" y1="428.8" x2="116.3" y2="428.8" stroke="#111" stroke-width="1.0"/>
<line x1="114.7" y1="424.62" x2="116.3" y2="424.62" stroke="#111" stroke-width="1.0"/>
<line x1="114.7" y1="420.44" x2="116.3" y2="420.44" stroke="#111" stroke-width="1.0"/>
<line x1="114.7" y1="416.26" x2="116.3" y2="416.26" stroke="#111" stroke-width="1.0"/>
<line x1="113.1" y1="412.08" x2="116.3" y2="412.08" stroke="#111" stroke-width="1.0"/>
<line x1="114.7" y1="407.9" x2="116.3" y2="407.9" stroke="#111" stroke-width="1.0"/>
<line x1="114.7" y1="403.72" x2="116.3" y2="403.72" stroke="#111" stroke-width="1.0"/>
<line x1="114.7" y1="399.54" x2="116.3" y2="399.54" stroke="#111" stroke-width="1.0"/>
<line x1="113.1" y1="395.36" x2="116.3" y2="395.36" stroke="#111" stroke-width="1.0"/>
<line x1="114.7" y1="391.18" x2="116.3" y2="391.18" stroke="#111" stroke-width="1.0"/>
<line x1="114.7" y1="387.0" x2="116.3" y2="387.0" stroke="#111" stroke-width="1.0"/>
<line x1="114.7" y1="382.82" x2="116.3" y2="382.82" stroke="#111" stroke-width="1.0"/>
<line x1="113.1" y1="378.64" x2="116.3" y2="378.64" stroke="#111" stroke-width="1.0"/>
<line x1="114.7" y1="374.46" x2="116.3" y2="374.46" stroke="#111" stroke-width="1.0"/>
<line x1="114.7" y1="370.28" x2="116.3" y2="370.28" stroke="#111" stroke-width="1.0"/>
<line x1="114.7" y1="366.09999999999997" x2="116.3" y2="366.09999999999997" stroke="#111" stroke-width="1.0"/>
<line x1="113.1" y1="361.91999999999996" x2="116.3" y2="361.91999999999996" stroke="#111" stroke-width="1.0"/>
<line x1="114.7" y1="357.74" x2="116.3" y2="357.74" stroke="#111" stroke-width="1.0"/>
<line x1="114.7" y1="353.56" x2="116.3" y2="353.56" stroke="#111" stroke-width="1.0"/>
<line x1="114.7" y1="349.38" x2="116.3" y2="349.38" stroke="#111" stroke-width="1.0"/>
<line x1="113.1" y1="345.2" x2="116.3" y2="345.2" stroke="#111" stroke-width="1.0"/>
<line x1="117.5" y1="428.8" x2="117.5" y2="431.8" stroke="#111" stroke-width="0.9"/>
<line x1="124.0" y1="428.8" x2="124.0" y2="431.0" stroke="#111" stroke-width="0.9"/>
<line x1="127.5" y1="428.8" x2="127.5" y2="431.0" stroke="#111" stroke-width="0.9"/>
<line x1="130.5" y1="428.8" x2="130.5" y2="431.0" stroke="#111" stroke-width="0.9"/>
<line x1="132.5" y1="428.8" x2="132.5" y2="431.0" stroke="#111" stroke-width="0.9"/>
<line x1="134.0" y1="428.8" x2="134.0" y2="431.0" stroke="#111" stroke-width="0.9"/>
<line x1="135.5" y1="428.8" x2="135.5" y2="431.0" stroke="#111" stroke-width="0.9"/>
<line x1="137.0" y1="428.8" x2="137.0" y2="431.0" stroke="#111" stroke-width="0.9"/>
<line x1="138.0" y1="428.8" x2="138.0" y2="431.0" stroke="#111" stroke-width="0.9"/>
<line x1="139.0" y1="428.8" x2="139.0" y2="431.8" stroke="#111" stroke-width="0.9"/>
<line x1="145.5" y1="428.8" x2="145.5" y2="431.0" stroke="#111" stroke-width="0.9"/>
<line x1="149.0" y1="428.8" x2="149.0" y2="431.0" stroke="#111" stroke-width="0.9"/>
<line x1="152.0" y1="428.8" x2="152.0" y2="431.0" stroke="#111" stroke-width="0.9"/>
<line x1="154.0" y1="428.8" x2="154.0" y2="431.0" stroke="#111" stroke-width="0.9"/>
<line x1="156.0" y1="428.8" x2="156.0" y2="431.0" stroke="#111" stroke-width="0.9"/>
<line x1="157.0" y1="428.8" x2="157.0" y2="431.0" stroke="#111" stroke-width="0.9"/>
<line x1="158.5" y1="428.8" x2="158.5" y2="431.0" stroke="#111" stroke-width="0.9"/>
<line x1="159.5" y1="428.8" x2="159.5" y2="431.0" stroke="#111" stroke-width="0.9"/>
<line x1="160.5" y1="428.8" x2="160.5" y2="431.8" stroke="#111" stroke-width="0.9"/>
<line x1="167.0" y1="428.8" x2="167.0" y2="431.0" stroke="#111" stroke-width="0.9"/>
<line x1="171.0" y1="428.8" x2="171.0" y2="431.0" stroke="#111" stroke-width="0.9"/>
<line x1="173.5" y1="428.8" x2="173.5" y2="431.0" stroke="#111" stroke-width="0.9"/>
<line x1="175.5" y1="428.8" x2="175.5" y2="431.0" stroke="#111" stroke-width="0.9"/>
<line x1="177.5" y1="428.8" x2="177.5" y2="431.0" stroke="#111" stroke-width="0.9"/>
<line x1="179.0" y1="428.8" x2="179.0" y2="431.0" stroke="#111" stroke-width="0.9"/>
<line x1="180.0" y1="428.8" x2="180.0" y2="431.0" stroke="#111" stroke-width="0.9"/>
<line x1="181.0" y1="428.8" x2="181.0" y2="431.0" stroke="#111" stroke-width="0.9"/>
<line x1="182.0" y1="428.8" x2="182.0" y2="431.8" stroke="#111" stroke-width="0.9"/>
<line x1="188.5" y1="428.8" x2="188.5" y2="431.0" stroke="#111" stroke-width="0.9"/>
<line x1="192.5" y1="428.8" x2="192.5" y2="431.0" stroke="#111" stroke-width="0.9"/>
<line x1="195.0" y1="428.8" x2="195.0" y2="431.0" stroke="#111" stroke-width="0.9"/>
<line x1="197.5" y1="428.8" x2="197.5" y2="431.0" stroke="#111" stroke-width="0.9"/>
<line x1="199.0" y1="428.8" x2="199.0" y2="431.0" stroke="#111" stroke-width="0.9"/>
<line x1="200.5" y1="428.8" x2="200.5" y2="431.0" stroke="#111" stroke-width="0.9"/>
<line x1="201.5" y1="428.8" x2="201.5" y2="431.0" stroke="#111" stroke-width="0.9"/>
<line x1="203.0" y1="428.8" x2="203.0" y2="431.0" stroke="#111" stroke-width="0.9"/>
<line x1="204.0" y1="428.8" x2="204.0" y2="431.8" stroke="#111" stroke-width="0.9"/>
<rect x="116.30" y="341.30" width="87.90" height="87.10" fill="none" stroke="#000" stroke-width="1.2"/>
<line x1="115.7" y1="428" x2="204.8" y2="428" stroke="#000" stroke-width="1.6"/>
<line x1="116.7" y1="344.5" x2="116.7" y2="428.5" stroke="#000" stroke-width="1.2"/>
<path d="M213.80,427.80 L214.00,427.80 L214.65,427.80 L215.30,427.80 L215.95,427.80 L216.60,427.80 L217.25,427.80 L217.89,427.80 L218.53,427.80 L219.17,427.80 L219.81,427.80 L220.45,427.80 L221.09,427.80 L221.72,427.80 L222.35,427.80 L222.98,427.80 L223.61,427.80 L224.24,427.80 L224.87,427.80 L225.50,427.80 L226.12,427.80 L226.74,427.80 L227.37,427.80 L227.99,427.80 L228.61,427.80 L229.23,427.80 L229.85,427.80 L230.47,427.77 L231.09,427.63 L231.71,427.43 L232.31,427.20 L232.89,426.96 L233.47,426.71 L234.05,426.42 L234.64,426.09 L235.21,425.74 L235.76,425.35 L236.28,424.95 L236.75,424.53 L237.17,424.10 L237.53,423.66 L237.85,423.18 L238.15,422.67 L238.43,422.12 L238.70,421.54 L238.95,420.94 L239.19,420.33 L239.41,419.70 L239.61,419.06 L239.80,418.43 L239.98,417.80 L240.15,417.18 L240.31,416.57 L240.45,415.96 L240.59,415.35 L240.71,414.72 L240.83,414.10 L240.95,413.48 L241.06,412.85 L241.16,412.22 L241.27,411.59 L241.38,410.97 L241.49,410.34 L241.61,409.72 L241.72,409.09 L241.83,408.47 L241.95,407.85 L242.06,407.22 L242.17,406.60 L242.29,405.97 L242.40,405.35 L242.51,404.73 L242.62,404.10 L242.73,403.48 L242.83,402.85 L242.94,402.23 L243.05,401.60 L243.15,400.98 L243.25,400.35 L243.35,399.73 L243.45,399.10 L243.55,398.47 L243.64,397.85 L243.74,397.22 L243.83,396.59 L243.92,395.97 L244.01,395.34 L244.10,394.71 L244.18,394.08 L244.27,393.46 L244.35,392.83 L244.44,392.20 L244.52,391.57 L244.60,390.94 L244.68,390.31 L244.76,389.69 L244.84,389.06 L244.92,388.43 L245.00,387.80 L245.07,387.17 L245.14,386.54 L245.22,385.91 L245.29,385.28 L245.36,384.65 L245.43,384.02 L245.50,383.39 L245.57,382.76 L245.63,382.13 L245.69,381.50 L245.75,380.87 L245.81,380.24 L245.87,379.60 L245.92,378.97 L245.98,378.34 L246.03,377.71 L246.09,377.08 L246.15,376.45 L246.20,375.81 L246.26,375.18 L246.32,374.55 L246.39,373.92 L246.45,373.29 L246.52,372.66 L246.60,372.03 L246.67,371.41 L246.76,370.78 L246.84,370.15 L246.94,369.52 L247.03,368.90 L247.13,368.27 L247.23,367.64 L247.33,367.02 L247.43,366.39 L247.54,365.77 L247.64,365.14 L247.75,364.52 L247.85,363.89 L247.96,363.27 L248.06,362.64 L248.17,362.02 L248.27,361.39 L248.38,360.77 L248.49,360.14 L248.60,359.52 L248.71,358.89 L248.83,358.27 L248.94,357.65 L249.05,357.02 L249.16,356.40 L249.27,355.77 L249.37,355.15 L249.48,354.52 L249.58,353.89 L249.67,353.26 L249.76,352.63 L249.85,352.00 L249.94,351.37 L250.04,350.74 L250.15,350.11 L250.27,349.50 L250.40,348.89 L250.56,348.27 L250.78,347.53 L251.04,346.77 L251.31,346.17 L251.58,345.90 L251.84,346.09 L252.11,346.64 L252.37,347.38 L252.60,348.14 L252.77,348.77 L252.92,349.38 L253.06,349.99 L253.19,350.61 L253.31,351.24 L253.42,351.87 L253.52,352.50 L253.62,353.13 L253.71,353.76 L253.81,354.39 L253.90,355.01 L254.00,355.64 L254.09,356.27 L254.17,356.90 L254.26,357.52 L254.34,358.15 L254.42,358.78 L254.49,359.41 L254.57,360.04 L254.65,360.67 L254.72,361.30 L254.80,361.93 L254.87,362.56 L254.95,363.19 L255.03,363.82 L255.10,364.45 L255.18,365.07 L255.26,365.70 L255.34,366.33 L255.42,366.96 L255.50,367.59 L255.57,368.22 L255.65,368.85 L255.72,369.48 L255.80,370.11 L255.87,370.74 L255.93,371.37 L256.00,372.00 L256.06,372.63 L256.12,373.26 L256.18,373.89 L256.24,374.52 L256.29,375.15 L256.34,375.79 L256.40,376.42 L256.45,377.05 L256.50,377.68 L256.55,378.31 L256.60,378.94 L256.65,379.58 L256.71,380.21 L256.76,380.84 L256.82,381.47 L256.87,382.10 L256.93,382.73 L257.00,383.36 L257.06,383.99 L257.13,384.62 L257.19,385.25 L257.26,385.88 L257.34,386.51 L257.41,387.14 L257.48,387.77 L257.56,388.40 L257.63,389.03 L257.71,389.66 L257.79,390.29 L257.86,390.92 L257.94,391.55 L258.02,392.18 L258.10,392.81 L258.18,393.43 L258.26,394.06 L258.34,394.69 L258.42,395.32 L258.50,395.95 L258.57,396.58 L258.65,397.21 L258.73,397.84 L258.80,398.47 L258.88,399.10 L258.96,399.72 L259.04,400.35 L259.12,400.98 L259.19,401.61 L259.27,402.24 L259.35,402.87 L259.43,403.50 L259.51,404.13 L259.59,404.76 L259.67,405.38 L259.75,406.01 L259.83,406.64 L259.91,407.27 L259.99,407.90 L260.07,408.53 L260.15,409.16 L260.23,409.79 L260.31,410.41 L260.39,411.04 L260.47,411.67 L260.55,412.30 L260.62,412.94 L260.70,413.57 L260.78,414.20 L260.86,414.82 L260.95,415.45 L261.04,416.08 L261.15,416.70 L261.26,417.32 L261.38,417.95 L261.50,418.58 L261.63,419.22 L261.78,419.86 L261.93,420.49 L262.09,421.11 L262.27,421.72 L262.46,422.32 L262.67,422.90 L262.90,423.47 L263.15,424.01 L263.46,424.57 L263.82,425.14 L264.23,425.68 L264.67,426.17 L265.14,426.61 L265.62,426.95 L266.14,427.23 L266.72,427.47 L267.34,427.66 L268.00,427.80 L300.90,427.80 L300.9,429.3 L213.8,429.3 Z" fill="#787878" stroke="none" stroke-width="1"/>
<path d="M213.80,427.80 L214.00,427.80 L214.60,427.66 L215.17,427.46 L215.67,427.21 L216.09,426.93 L216.45,426.57 L216.78,426.12 L217.07,425.62 L217.35,425.07 L217.61,424.52 L217.87,423.97 L218.12,423.46 L218.36,422.95 L218.60,422.43 L218.83,421.91 L219.06,421.38 L219.28,420.85 L219.49,420.32 L219.70,419.78 L219.90,419.25 L220.10,418.71 L220.29,418.17 L220.48,417.63 L220.67,417.09 L220.85,416.55 L221.04,416.01 L221.22,415.47 L221.40,414.93 L221.58,414.38 L221.76,413.83 L221.93,413.29 L222.09,412.74 L222.24,412.19 L222.39,411.64 L222.53,411.08 L222.65,410.53 L222.77,409.97 L222.88,409.42 L222.98,408.86 L223.09,408.30 L223.19,407.74 L223.28,407.18 L223.38,406.61 L223.47,406.05 L223.56,405.48 L223.64,404.92 L223.73,404.35 L223.81,403.79 L223.89,403.22 L223.96,402.65 L224.04,402.08 L224.11,401.52 L224.19,400.95 L224.26,400.38 L224.33,399.81 L224.40,399.24 L224.47,398.67 L224.54,398.11 L224.61,397.54 L224.68,396.97 L224.75,396.40 L224.82,395.84 L224.88,395.27 L224.95,394.70 L225.01,394.14 L225.07,393.57 L225.14,393.00 L225.20,392.43 L225.26,391.86 L225.32,391.30 L225.37,390.73 L225.43,390.16 L225.49,389.59 L225.55,389.02 L225.60,388.45 L225.66,387.88 L225.71,387.32 L225.77,386.75 L225.83,386.18 L225.88,385.61 L225.94,385.04 L225.99,384.47 L226.05,383.90 L226.11,383.34 L226.16,382.77 L226.22,382.20 L226.27,381.63 L226.32,381.06 L226.37,380.49 L226.42,379.92 L226.47,379.35 L226.52,378.78 L226.57,378.21 L226.62,377.64 L226.67,377.07 L226.72,376.50 L226.77,375.93 L226.83,375.37 L226.88,374.80 L226.94,374.23 L227.00,373.66 L227.07,373.10 L227.13,372.53 L227.20,371.96 L227.28,371.40 L227.37,370.83 L227.46,370.27 L227.56,369.71 L227.66,369.15 L227.77,368.59 L227.87,368.02 L227.99,367.46 L228.10,366.90 L228.21,366.34 L228.32,365.78 L228.42,365.22 L228.52,364.65 L228.62,364.09 L228.71,363.53 L228.80,362.96 L228.89,362.40 L228.98,361.84 L229.07,361.27 L229.16,360.71 L229.25,360.14 L229.34,359.57 L229.42,359.01 L229.51,358.44 L229.58,357.88 L229.66,357.31 L229.73,356.74 L229.79,356.18 L229.85,355.61 L229.90,355.04 L229.94,354.44 L229.98,353.78 L230.01,353.08 L230.04,352.34 L230.06,351.58 L230.08,350.82 L230.11,350.07 L230.13,349.35 L230.15,348.68 L230.18,348.05 L230.21,347.50 L230.24,347.04 L230.28,346.67 L230.33,346.43 L230.38,346.31 L230.46,346.36 L230.62,346.62 L230.84,347.06 L231.10,347.64 L231.37,348.30 L231.64,349.00 L231.86,349.71 L232.04,350.36 L232.13,350.93 L232.20,351.49 L232.26,352.05 L232.31,352.62 L232.35,353.20 L232.40,353.77 L232.44,354.35 L232.49,354.92 L232.55,355.49 L232.60,356.05 L232.66,356.62 L232.72,357.19 L232.78,357.76 L232.84,358.33 L232.90,358.90 L232.96,359.46 L233.02,360.03 L233.08,360.60 L233.14,361.17 L233.20,361.74 L233.26,362.30 L233.32,362.87 L233.38,363.44 L233.44,364.01 L233.50,364.58 L233.56,365.14 L233.62,365.71 L233.67,366.28 L233.73,366.85 L233.79,367.42 L233.85,367.99 L233.91,368.56 L233.97,369.12 L234.03,369.69 L234.09,370.26 L234.16,370.83 L234.22,371.39 L234.29,371.96 L234.37,372.53 L234.45,373.09 L234.53,373.66 L234.62,374.22 L234.71,374.79 L234.80,375.35 L234.89,375.91 L234.99,376.48 L235.09,377.04 L235.18,377.60 L235.28,378.17 L235.38,378.73 L235.47,379.29 L235.57,379.86 L235.66,380.42 L235.75,380.98 L235.84,381.55 L235.92,382.11 L236.00,382.68 L236.08,383.24 L236.15,383.81 L236.22,384.38 L236.29,384.94 L236.35,385.51 L236.41,386.08 L236.47,386.65 L236.53,387.22 L236.58,387.79 L236.64,388.35 L236.69,388.92 L236.75,389.49 L236.80,390.06 L236.86,390.63 L236.91,391.20 L236.96,391.77 L237.02,392.34 L237.08,392.91 L237.13,393.47 L237.19,394.04 L237.25,394.61 L237.31,395.18 L237.38,395.75 L237.44,396.31 L237.51,396.88 L237.58,397.45 L237.66,398.01 L237.73,398.58 L237.82,399.14 L237.90,399.71 L237.98,400.27 L238.07,400.84 L238.16,401.40 L238.25,401.97 L238.34,402.53 L238.43,403.10 L238.52,403.66 L238.61,404.22 L238.70,404.79 L238.79,405.35 L238.88,405.92 L238.97,406.48 L239.06,407.05 L239.14,407.61 L239.22,408.18 L239.30,408.74 L239.38,409.31 L239.45,409.88 L239.52,410.44 L239.58,411.01 L239.64,411.58 L239.69,412.15 L239.74,412.72 L239.79,413.29 L239.84,413.87 L239.89,414.44 L239.95,415.00 L240.01,415.57 L240.08,416.14 L240.15,416.70 L240.24,417.26 L240.34,417.82 L240.45,418.39 L240.58,418.96 L240.72,419.53 L240.87,420.10 L241.03,420.66 L241.21,421.21 L241.40,421.76 L241.59,422.30 L241.80,422.82 L242.02,423.32 L242.25,423.81 L242.52,424.32 L242.82,424.85 L243.16,425.39 L243.53,425.91 L243.92,426.40 L244.34,426.82 L244.78,427.17 L245.23,427.41 L245.69,427.54 L246.21,427.64 L246.77,427.72 L247.38,427.78 L248.00,427.80 L300.90,427.80" fill="none" stroke="#111" stroke-width="1.2" stroke-linejoin="round" fill="none" stroke-dasharray="1.6 0.5"/>
<path d="M213.80,427.80 L214.00,427.80 L214.65,427.80 L215.30,427.80 L215.95,427.80 L216.60,427.80 L217.25,427.80 L217.89,427.80 L218.53,427.80 L219.17,427.80 L219.81,427.80 L220.45,427.80 L221.09,427.80 L221.72,427.80 L222.35,427.80 L222.98,427.80 L223.61,427.80 L224.24,427.80 L224.87,427.80 L225.50,427.80 L226.12,427.80 L226.74,427.80 L227.37,427.80 L227.99,427.80 L228.61,427.80 L229.23,427.80 L229.85,427.80 L230.47,427.77 L231.09,427.63 L231.71,427.43 L232.31,427.20 L232.89,426.96 L233.47,426.71 L234.05,426.42 L234.64,426.09 L235.21,425.74 L235.76,425.35 L236.28,424.95 L236.75,424.53 L237.17,424.10 L237.53,423.66 L237.85,423.18 L238.15,422.67 L238.43,422.12 L238.70,421.54 L238.95,420.94 L239.19,420.33 L239.41,419.70 L239.61,419.06 L239.80,418.43 L239.98,417.80 L240.15,417.18 L240.31,416.57 L240.45,415.96 L240.59,415.35 L240.71,414.72 L240.83,414.10 L240.95,413.48 L241.06,412.85 L241.16,412.22 L241.27,411.59 L241.38,410.97 L241.49,410.34 L241.61,409.72 L241.72,409.09 L241.83,408.47 L241.95,407.85 L242.06,407.22 L242.17,406.60 L242.29,405.97 L242.40,405.35 L242.51,404.73 L242.62,404.10 L242.73,403.48 L242.83,402.85 L242.94,402.23 L243.05,401.60 L243.15,400.98 L243.25,400.35 L243.35,399.73 L243.45,399.10 L243.55,398.47 L243.64,397.85 L243.74,397.22 L243.83,396.59 L243.92,395.97 L244.01,395.34 L244.10,394.71 L244.18,394.08 L244.27,393.46 L244.35,392.83 L244.44,392.20 L244.52,391.57 L244.60,390.94 L244.68,390.31 L244.76,389.69 L244.84,389.06 L244.92,388.43 L245.00,387.80 L245.07,387.17 L245.14,386.54 L245.22,385.91 L245.29,385.28 L245.36,384.65 L245.43,384.02 L245.50,383.39 L245.57,382.76 L245.63,382.13 L245.69,381.50 L245.75,380.87 L245.81,380.24 L245.87,379.60 L245.92,378.97 L245.98,378.34 L246.03,377.71 L246.09,377.08 L246.15,376.45 L246.20,375.81 L246.26,375.18 L246.32,374.55 L246.39,373.92 L246.45,373.29 L246.52,372.66 L246.60,372.03 L246.67,371.41 L246.76,370.78 L246.84,370.15 L246.94,369.52 L247.03,368.90 L247.13,368.27 L247.23,367.64 L247.33,367.02 L247.43,366.39 L247.54,365.77 L247.64,365.14 L247.75,364.52 L247.85,363.89 L247.96,363.27 L248.06,362.64 L248.17,362.02 L248.27,361.39 L248.38,360.77 L248.49,360.14 L248.60,359.52 L248.71,358.89 L248.83,358.27 L248.94,357.65 L249.05,357.02 L249.16,356.40 L249.27,355.77 L249.37,355.15 L249.48,354.52 L249.58,353.89 L249.67,353.26 L249.76,352.63 L249.85,352.00 L249.94,351.37 L250.04,350.74 L250.15,350.11 L250.27,349.50 L250.40,348.89 L250.56,348.27 L250.78,347.53 L251.04,346.77 L251.31,346.17 L251.58,345.90 L251.84,346.09 L252.11,346.64 L252.37,347.38 L252.60,348.14 L252.77,348.77 L252.92,349.38 L253.06,349.99 L253.19,350.61 L253.31,351.24 L253.42,351.87 L253.52,352.50 L253.62,353.13 L253.71,353.76 L253.81,354.39 L253.90,355.01 L254.00,355.64 L254.09,356.27 L254.17,356.90 L254.26,357.52 L254.34,358.15 L254.42,358.78 L254.49,359.41 L254.57,360.04 L254.65,360.67 L254.72,361.30 L254.80,361.93 L254.87,362.56 L254.95,363.19 L255.03,363.82 L255.10,364.45 L255.18,365.07 L255.26,365.70 L255.34,366.33 L255.42,366.96 L255.50,367.59 L255.57,368.22 L255.65,368.85 L255.72,369.48 L255.80,370.11 L255.87,370.74 L255.93,371.37 L256.00,372.00 L256.06,372.63 L256.12,373.26 L256.18,373.89 L256.24,374.52 L256.29,375.15 L256.34,375.79 L256.40,376.42 L256.45,377.05 L256.50,377.68 L256.55,378.31 L256.60,378.94 L256.65,379.58 L256.71,380.21 L256.76,380.84 L256.82,381.47 L256.87,382.10 L256.93,382.73 L257.00,383.36 L257.06,383.99 L257.13,384.62 L257.19,385.25 L257.26,385.88 L257.34,386.51 L257.41,387.14 L257.48,387.77 L257.56,388.40 L257.63,389.03 L257.71,389.66 L257.79,390.29 L257.86,390.92 L257.94,391.55 L258.02,392.18 L258.10,392.81 L258.18,393.43 L258.26,394.06 L258.34,394.69 L258.42,395.32 L258.50,395.95 L258.57,396.58 L258.65,397.21 L258.73,397.84 L258.80,398.47 L258.88,399.10 L258.96,399.72 L259.04,400.35 L259.12,400.98 L259.19,401.61 L259.27,402.24 L259.35,402.87 L259.43,403.50 L259.51,404.13 L259.59,404.76 L259.67,405.38 L259.75,406.01 L259.83,406.64 L259.91,407.27 L259.99,407.90 L260.07,408.53 L260.15,409.16 L260.23,409.79 L260.31,410.41 L260.39,411.04 L260.47,411.67 L260.55,412.30 L260.62,412.94 L260.70,413.57 L260.78,414.20 L260.86,414.82 L260.95,415.45 L261.04,416.08 L261.15,416.70 L261.26,417.32 L261.38,417.95 L261.50,418.58 L261.63,419.22 L261.78,419.86 L261.93,420.49 L262.09,421.11 L262.27,421.72 L262.46,422.32 L262.67,422.90 L262.90,423.47 L263.15,424.01 L263.46,424.57 L263.82,425.14 L264.23,425.68 L264.67,426.17 L265.14,426.61 L265.62,426.95 L266.14,427.23 L266.72,427.47 L267.34,427.66 L268.00,427.80 L300.90,427.80" fill="none" stroke="#000" stroke-width="2.4" stroke-linejoin="round" fill="none"/>
<line x1="210.70000000000002" y1="428.8" x2="213.9" y2="428.8" stroke="#111" stroke-width="1.0"/>
<line x1="212.3" y1="424.62" x2="213.9" y2="424.62" stroke="#111" stroke-width="1.0"/>
<line x1="212.3" y1="420.44" x2="213.9" y2="420.44" stroke="#111" stroke-width="1.0"/>
<line x1="212.3" y1="416.26" x2="213.9" y2="416.26" stroke="#111" stroke-width="1.0"/>
<line x1="210.70000000000002" y1="412.08" x2="213.9" y2="412.08" stroke="#111" stroke-width="1.0"/>
<line x1="212.3" y1="407.9" x2="213.9" y2="407.9" stroke="#111" stroke-width="1.0"/>
<line x1="212.3" y1="403.72" x2="213.9" y2="403.72" stroke="#111" stroke-width="1.0"/>
<line x1="212.3" y1="399.54" x2="213.9" y2="399.54" stroke="#111" stroke-width="1.0"/>
<line x1="210.70000000000002" y1="395.36" x2="213.9" y2="395.36" stroke="#111" stroke-width="1.0"/>
<line x1="212.3" y1="391.18" x2="213.9" y2="391.18" stroke="#111" stroke-width="1.0"/>
<line x1="212.3" y1="387.0" x2="213.9" y2="387.0" stroke="#111" stroke-width="1.0"/>
<line x1="212.3" y1="382.82" x2="213.9" y2="382.82" stroke="#111" stroke-width="1.0"/>
<line x1="210.70000000000002" y1="378.64" x2="213.9" y2="378.64" stroke="#111" stroke-width="1.0"/>
<line x1="212.3" y1="374.46" x2="213.9" y2="374.46" stroke="#111" stroke-width="1.0"/>
<line x1="212.3" y1="370.28" x2="213.9" y2="370.28" stroke="#111" stroke-width="1.0"/>
<line x1="212.3" y1="366.09999999999997" x2="213.9" y2="366.09999999999997" stroke="#111" stroke-width="1.0"/>
<line x1="210.70000000000002" y1="361.91999999999996" x2="213.9" y2="361.91999999999996" stroke="#111" stroke-width="1.0"/>
<line x1="212.3" y1="357.74" x2="213.9" y2="357.74" stroke="#111" stroke-width="1.0"/>
<line x1="212.3" y1="353.56" x2="213.9" y2="353.56" stroke="#111" stroke-width="1.0"/>
<line x1="212.3" y1="349.38" x2="213.9" y2="349.38" stroke="#111" stroke-width="1.0"/>
<line x1="210.70000000000002" y1="345.2" x2="213.9" y2="345.2" stroke="#111" stroke-width="1.0"/>
<line x1="215.0" y1="428.8" x2="215.0" y2="431.8" stroke="#111" stroke-width="0.9"/>
<line x1="221.5" y1="428.8" x2="221.5" y2="431.0" stroke="#111" stroke-width="0.9"/>
<line x1="225.0" y1="428.8" x2="225.0" y2="431.0" stroke="#111" stroke-width="0.9"/>
<line x1="228.0" y1="428.8" x2="228.0" y2="431.0" stroke="#111" stroke-width="0.9"/>
<line x1="230.0" y1="428.8" x2="230.0" y2="431.0" stroke="#111" stroke-width="0.9"/>
<line x1="231.5" y1="428.8" x2="231.5" y2="431.0" stroke="#111" stroke-width="0.9"/>
<line x1="233.0" y1="428.8" x2="233.0" y2="431.0" stroke="#111" stroke-width="0.9"/>
<line x1="234.5" y1="428.8" x2="234.5" y2="431.0" stroke="#111" stroke-width="0.9"/>
<line x1="235.5" y1="428.8" x2="235.5" y2="431.0" stroke="#111" stroke-width="0.9"/>
<line x1="236.5" y1="428.8" x2="236.5" y2="431.8" stroke="#111" stroke-width="0.9"/>
<line x1="243.0" y1="428.8" x2="243.0" y2="431.0" stroke="#111" stroke-width="0.9"/>
<line x1="246.5" y1="428.8" x2="246.5" y2="431.0" stroke="#111" stroke-width="0.9"/>
<line x1="249.5" y1="428.8" x2="249.5" y2="431.0" stroke="#111" stroke-width="0.9"/>
<line x1="251.5" y1="428.8" x2="251.5" y2="431.0" stroke="#111" stroke-width="0.9"/>
<line x1="253.0" y1="428.8" x2="253.0" y2="431.0" stroke="#111" stroke-width="0.9"/>
<line x1="254.5" y1="428.8" x2="254.5" y2="431.0" stroke="#111" stroke-width="0.9"/>
<line x1="256.0" y1="428.8" x2="256.0" y2="431.0" stroke="#111" stroke-width="0.9"/>
<line x1="257.0" y1="428.8" x2="257.0" y2="431.0" stroke="#111" stroke-width="0.9"/>
<line x1="258.0" y1="428.8" x2="258.0" y2="431.8" stroke="#111" stroke-width="0.9"/>
<line x1="264.5" y1="428.8" x2="264.5" y2="431.0" stroke="#111" stroke-width="0.9"/>
<line x1="268.0" y1="428.8" x2="268.0" y2="431.0" stroke="#111" stroke-width="0.9"/>
<line x1="271.0" y1="428.8" x2="271.0" y2="431.0" stroke="#111" stroke-width="0.9"/>
<line x1="273.0" y1="428.8" x2="273.0" y2="431.0" stroke="#111" stroke-width="0.9"/>
<line x1="274.5" y1="428.8" x2="274.5" y2="431.0" stroke="#111" stroke-width="0.9"/>
<line x1="276.0" y1="428.8" x2="276.0" y2="431.0" stroke="#111" stroke-width="0.9"/>
<line x1="277.5" y1="428.8" x2="277.5" y2="431.0" stroke="#111" stroke-width="0.9"/>
<line x1="278.5" y1="428.8" x2="278.5" y2="431.0" stroke="#111" stroke-width="0.9"/>
<line x1="279.5" y1="428.8" x2="279.5" y2="431.8" stroke="#111" stroke-width="0.9"/>
<line x1="286.0" y1="428.8" x2="286.0" y2="431.0" stroke="#111" stroke-width="0.9"/>
<line x1="289.5" y1="428.8" x2="289.5" y2="431.0" stroke="#111" stroke-width="0.9"/>
<line x1="292.5" y1="428.8" x2="292.5" y2="431.0" stroke="#111" stroke-width="0.9"/>
<line x1="294.5" y1="428.8" x2="294.5" y2="431.0" stroke="#111" stroke-width="0.9"/>
<line x1="296.0" y1="428.8" x2="296.0" y2="431.0" stroke="#111" stroke-width="0.9"/>
<line x1="297.5" y1="428.8" x2="297.5" y2="431.0" stroke="#111" stroke-width="0.9"/>
<line x1="299.0" y1="428.8" x2="299.0" y2="431.0" stroke="#111" stroke-width="0.9"/>
<line x1="300.0" y1="428.8" x2="300.0" y2="431.0" stroke="#111" stroke-width="0.9"/>
<line x1="301.0" y1="428.8" x2="301.0" y2="431.8" stroke="#111" stroke-width="0.9"/>
<rect x="213.90" y="341.30" width="87.40" height="87.10" fill="none" stroke="#000" stroke-width="1.2"/>
<line x1="213.3" y1="428" x2="301.9" y2="428" stroke="#000" stroke-width="1.6"/>
<line x1="214.3" y1="344.5" x2="214.3" y2="428.5" stroke="#000" stroke-width="1.2"/>
<text transform="translate(64.45,354.69) scale(1.091,1)" font-size="10.88" font-weight="normal" font-style="normal" fill="#000">Ex vivo</text>
<text transform="translate(73.30,366.59) scale(1.155,1)" font-size="10.88" font-weight="normal" font-style="normal" fill="#000">d+0</text>
<text transform="translate(178.47,354.68) scale(1.005,1)" font-size="11.56" font-weight="normal" font-style="normal" fill="#000">Th0</text>
<text transform="translate(178.23,366.39) scale(1.029,1)" font-size="11.43" font-weight="normal" font-style="normal" fill="#000">d+5</text>
<text transform="translate(276.56,354.20) scale(0.978,1)" font-size="12.28" font-weight="normal" font-style="normal" fill="#000">Th2</text>
<text transform="translate(276.32,365.49) scale(1.096,1)" font-size="11.02" font-weight="normal" font-style="normal" fill="#000">d+5</text>
<text transform="translate(9.37,411.98) rotate(-90) scale(1.137,1)" font-size="9.67" font-weight="normal" font-style="normal" fill="#000">Frequency</text>
<line x1="24" y1="439.4" x2="143.5" y2="439.4" stroke="#333" stroke-width="1.2"/>
<text transform="translate(143.82,441.80) scale(0.941,1)" font-size="11.59" font-weight="normal" font-style="normal" fill="#000">IL-4R</text>
<text transform="translate(170.79,441.80) scale(1.797,1)" font-size="9.82" font-weight="normal" font-style="normal" fill="#000">α</text>
<line x1="182.5" y1="439.4" x2="282" y2="439.4" stroke="#333" stroke-width="1.2"/>
<path d="M275.4,432.2 L297.8,439.3 L275.4,446.6 L281.6,439.3 Z" fill="#000" stroke="none" stroke-width="1"/>
<text transform="translate(331.48,327.00) scale(1.203,1)" font-size="13.04" font-weight="bold" font-style="normal" fill="#000" stroke="#000" stroke-width="0.235">F</text>
<text transform="translate(350.19,444.01) rotate(-90) scale(1.008,1)" font-size="10.05" font-weight="normal" font-style="normal" fill="#000">GATA3 relative expression</text>
<text transform="translate(381.53,323.89) scale(1.111,1)" font-size="10.88" font-weight="normal" font-style="normal" fill="#000" stroke="#000" stroke-width="0.196">Ex vivo</text>
<line x1="388.05" y1="340" x2="388.05" y2="330.5" stroke="#333" stroke-width="1.2"/>
<line x1="382.8" y1="330.5" x2="392.9" y2="330.5" stroke="#333" stroke-width="1.4"/>
<rect x="379.20" y="340.60" width="17.70" height="86.90" fill="#fff" stroke="#000" stroke-width="1.2"/>
<rect x="406.20" y="345.00" width="18.80" height="82.50" fill="#000"/>
<line x1="373.8" y1="328.4" x2="373.8" y2="428.1" stroke="#000" stroke-width="1.2"/>
<line x1="371.2" y1="329" x2="373.8" y2="329" stroke="#000" stroke-width="1.2"/>
<line x1="371.2" y1="361.8" x2="373.8" y2="361.8" stroke="#000" stroke-width="1.2"/>
<line x1="371.2" y1="394.5" x2="373.8" y2="394.5" stroke="#000" stroke-width="1.2"/>
<line x1="371.2" y1="427.2" x2="373.8" y2="427.2" stroke="#000" stroke-width="1.2"/>
<line x1="373.8" y1="328.4" x2="373.8" y2="329" stroke="#000" stroke-width="1.2"/>
<line x1="373.8" y1="427.5" x2="428.5" y2="427.5" stroke="#000" stroke-width="1.6"/>
<line x1="388" y1="427.5" x2="388" y2="430.4" stroke="#000" stroke-width="1.2"/>
<line x1="415.8" y1="427.5" x2="415.8" y2="430.4" stroke="#000" stroke-width="1.2"/>
<text transform="translate(355.51,331.70) scale(1.269,1)" font-size="8.29" font-weight="normal" font-style="normal" fill="#000" stroke="#000" stroke-width="0.149">1.2</text>
<text transform="translate(355.89,364.42) scale(1.243,1)" font-size="8.17" font-weight="normal" font-style="normal" fill="#000" stroke="#000" stroke-width="0.147">0.8</text>
<text transform="translate(355.90,397.12) scale(1.233,1)" font-size="8.17" font-weight="normal" font-style="normal" fill="#000" stroke="#000" stroke-width="0.147">0.4</text>
<text transform="translate(355.89,429.82) scale(1.243,1)" font-size="8.17" font-weight="normal" font-style="normal" fill="#000" stroke="#000" stroke-width="0.147">0.0</text>
<text transform="translate(376.08,439.20) scale(1.108,1)" font-size="10.43" font-weight="normal" font-style="normal" fill="#000" stroke="#000" stroke-width="0.188">RTE</text>
<text transform="translate(406.85,439.20) scale(1.134,1)" font-size="10.43" font-weight="normal" font-style="normal" fill="#000" stroke="#000" stroke-width="0.188">MN</text>
<text transform="translate(406.02,340.08) scale(0.997,1)" font-size="12.00" font-weight="normal" font-style="normal" fill="#000" stroke="#000" stroke-width="0.216">n.s.</text>
<text transform="translate(477.27,323.90) scale(1.014,1)" font-size="11.17" font-weight="normal" font-style="normal" fill="#000" stroke="#000" stroke-width="0.201">Th2</text>
<line x1="469.65" y1="335.1" x2="469.65" y2="333.3" stroke="#333" stroke-width="1.2"/>
<line x1="464.4" y1="333.3" x2="473.8" y2="333.3" stroke="#333" stroke-width="1.4"/>
<rect x="460.10" y="335.70" width="19.10" height="91.80" fill="#fff" stroke="#000" stroke-width="1.2"/>
<rect x="489.40" y="352.00" width="19.40" height="75.50" fill="#000"/>
<line x1="454.4" y1="336.0" x2="454.4" y2="428.1" stroke="#000" stroke-width="1.2"/>
<line x1="451.79999999999995" y1="336.6" x2="454.4" y2="336.6" stroke="#000" stroke-width="1.2"/>
<line x1="451.79999999999995" y1="366.9" x2="454.4" y2="366.9" stroke="#000" stroke-width="1.2"/>
<line x1="451.79999999999995" y1="396.8" x2="454.4" y2="396.8" stroke="#000" stroke-width="1.2"/>
<line x1="451.79999999999995" y1="427.2" x2="454.4" y2="427.2" stroke="#000" stroke-width="1.2"/>
<line x1="454.4" y1="329.4" x2="454.4" y2="336.6" stroke="#000" stroke-width="1.2"/>
<line x1="454.4" y1="427.5" x2="513.8" y2="427.5" stroke="#000" stroke-width="1.6"/>
<line x1="469.8" y1="427.5" x2="469.8" y2="430.4" stroke="#000" stroke-width="1.2"/>
<line x1="499.2" y1="427.5" x2="499.2" y2="430.4" stroke="#000" stroke-width="1.2"/>
<text transform="translate(435.00,339.30) scale(1.288,1)" font-size="8.29" font-weight="normal" font-style="normal" fill="#000" stroke="#000" stroke-width="0.149">1.2</text>
<text transform="translate(435.39,369.52) scale(1.262,1)" font-size="8.17" font-weight="normal" font-style="normal" fill="#000" stroke="#000" stroke-width="0.147">0.8</text>
<text transform="translate(435.39,399.42) scale(1.252,1)" font-size="8.17" font-weight="normal" font-style="normal" fill="#000" stroke="#000" stroke-width="0.147">0.4</text>
<text transform="translate(435.39,429.82) scale(1.262,1)" font-size="8.17" font-weight="normal" font-style="normal" fill="#000" stroke="#000" stroke-width="0.147">0.0</text>
<text transform="translate(457.88,439.20) scale(1.108,1)" font-size="10.43" font-weight="normal" font-style="normal" fill="#000" stroke="#000" stroke-width="0.188">RTE</text>
<text transform="translate(490.25,439.20) scale(1.134,1)" font-size="10.43" font-weight="normal" font-style="normal" fill="#000" stroke="#000" stroke-width="0.188">MN</text>
<path d="M499.40,343.62 L500.41,345.33 L502.38,345.74 L501.04,347.21 L501.24,349.17 L499.40,348.38 L497.56,349.17 L497.76,347.21 L496.42,345.74 L498.39,345.33 Z" fill="#000" stroke="#000" stroke-width="0.25" stroke-linejoin="round"/>
</svg>
</body></html>
